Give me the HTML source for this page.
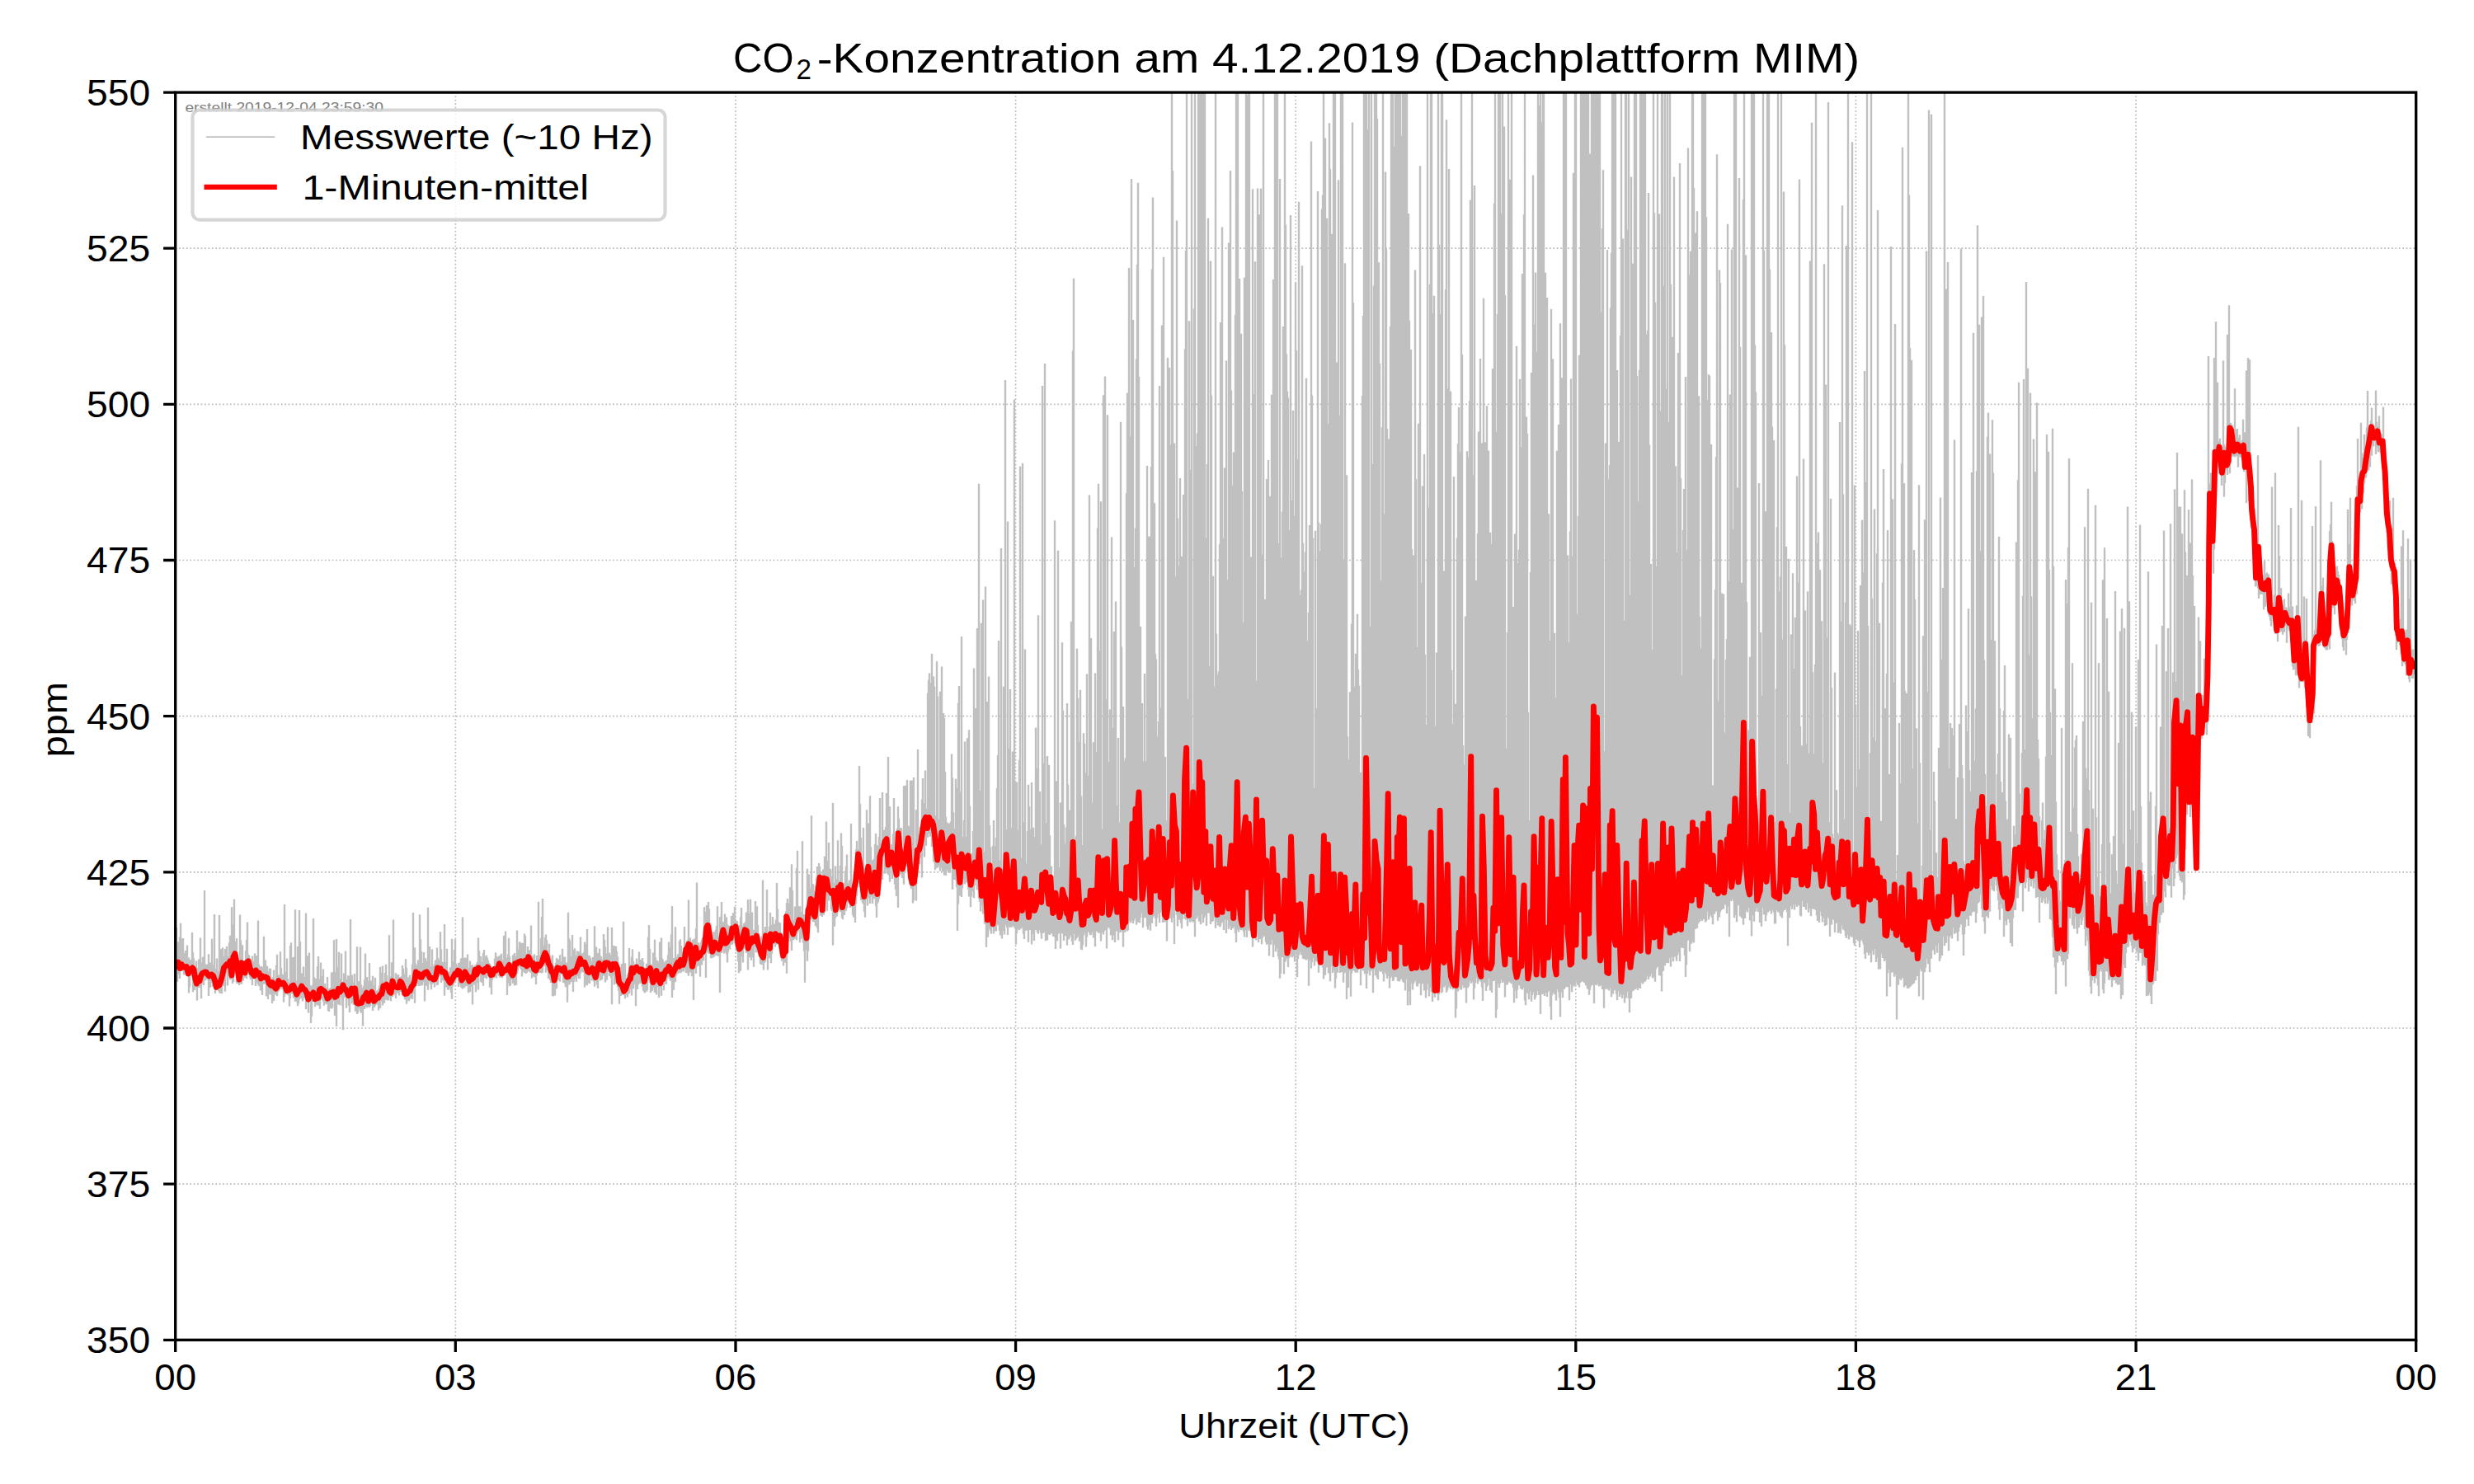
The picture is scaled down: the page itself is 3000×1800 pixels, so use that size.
<!DOCTYPE html><html><head><meta charset="utf-8"><title>CO2</title><style>html,body{margin:0;padding:0;background:#fff}svg{display:block}</style></head><body>
<svg width="3000" height="1800" viewBox="0 0 3000 1800">
<rect width="3000" height="1800" fill="#fff"/>
<defs><clipPath id="ax"><rect x="212.7" y="112.1" width="2717" height="1513.2"/></clipPath></defs>
<path d="M552.3 1625.3V112.1M892 1625.3V112.1M1231.6 1625.3V112.1M1571.2 1625.3V112.1M1910.8 1625.3V112.1M2250.4 1625.3V112.1M2590.1 1625.3V112.1M212.7 1436.1H2929.7M212.7 1247H2929.7M212.7 1057.8H2929.7M212.7 868.7H2929.7M212.7 679.5H2929.7M212.7 490.4H2929.7M212.7 301.2H2929.7" stroke="#b8b8b8" stroke-width="1.67" stroke-dasharray="1.67 2.75" fill="none"/>
<g clip-path="url(#ax)">
<path d="M214 1125.1V1180M215 1163.9V1190.7M216 1142.2V1176.5M217 1165.8V1182M218 1136.8V1186.9M219 1119.8V1176.1M220 1138.8V1177.8M221 1164V1178.1M222 1138.1V1177.1M223 1158.3V1182.6M224 1156.1V1180.3M225 1152.9V1181.3M226 1163.3V1183.6M227 1146.6V1180.8M228 1163.3V1182.3M229 1161.6V1204.6M230 1165.1V1197.5M231 1164.3V1184M232 1166.6V1184M233 1131V1184.5M234 1155.3V1203.2M235 1162.5V1199.8M236 1172.2V1201.1M237 1177.3V1197.5M238 1165.4V1197.4M239 1176.6V1213.4M240 1174.2V1198.1M241 1163.6V1198M242 1168.6V1194.9M243 1137.6V1197.4M244 1174.4V1211.3M245 1167.5V1192.9M246 1160.7V1188.6M247 1172.5V1195.2M248 1079.9V1187.5M249 1169.3V1189.3M250 1171.8V1186.7M251 1169.8V1187.8M252 1176.7V1188.3M253 1157.3V1208.1M254 1171.3V1195M255 1167.4V1197.8M256 1173.4V1189.6M257 1138.8V1192.1M258 1170.4V1196.7M259 1177.2V1195M260 1109.1V1195.5M261 1175.3V1205M262 1179V1197.6M263 1162.6V1199.4M264 1177.7V1199M265 1187.2V1201.9M266 1110.1V1203.8M267 1151.3V1205.1M268 1174.9V1199.7M269 1151.2V1205.2M270 1149.2V1192.2M271 1166.1V1196M272 1159.9V1188.7M273 1150.9V1202.8M274 1155.6V1180.8M275 1147.7V1180.5M276 1162.7V1195.4M277 1160.1V1182.6M278 1143.3V1179.8M279 1134.7V1188.3M280 1159V1186.7M281 1100.2V1186.2M282 1159.3V1193M283 1121.2V1191.1M284 1090.8V1181.9M285 1142.1V1174.2M286 1150.2V1180.4M287 1138.3V1192.4M288 1161.6V1193M289 1170.1V1192.5M290 1165.7V1194.9M291 1109.6V1193.4M292 1140.6V1193.2M293 1146.3V1193.7M294 1146.3V1182.4M295 1164.9V1189.6M296 1168.4V1186M297 1165.5V1185.5M298 1153.2V1184.5M299 1140.1V1187.3M300 1118.6V1181M301 1157.7V1180.5M302 1158.5V1182.7M303 1162.3V1185.8M304 1165.4V1188.1M305 1164.2V1184.2M306 1159.4V1195M307 1172V1185.6M308 1165.9V1183.6M309 1156.3V1185.7M310 1167.7V1195.9M311 1158.9V1189.9M312 1165.8V1191.5M313 1116.5V1193.9M314 1169.8V1196.2M315 1173V1191M316 1177.3V1201.4M317 1172.1V1195M318 1176.5V1207.1M319 1173.1V1191.3M320 1135.8V1193.8M321 1179.8V1191.9M322 1164.6V1193.7M323 1173.3V1208.4M324 1171.7V1199.6M325 1178.3V1212M326 1182.1V1199.6M327 1174.5V1205.4M328 1174.9V1206.5M329 1187V1201.8M330 1188.2V1217M331 1185.2V1204M332 1176.6V1213.9M333 1188V1203.3M334 1187.7V1206.4M335 1170.8V1206.2M336 1157.8V1208.2M337 1182.5V1203.4M338 1182.6V1201.9M339 1187V1200.5M340 1154.3V1198.7M341 1173.9V1199.3M342 1181.4V1198.6M343 1182.5V1200.5M344 1185.8V1215.7M345 1096.9V1209M346 1178.9V1203.5M347 1186V1205.7M348 1162.5V1205.6M349 1187.3V1207.3M350 1191.3V1206.3M351 1193.2V1220.7M352 1147.1V1211.2M353 1143.3V1204.5M354 1189.6V1205.2M355 1161.2V1202.9M356 1190.5V1210.5M357 1160.4V1208.8M358 1103.3V1214.7M359 1191.9V1211.6M360 1189.6V1215.2M361 1148V1220.3M362 1192.8V1217.4M363 1104V1212.2M364 1142V1208.4M365 1188.9V1210.7M366 1180.6V1210.4M367 1186.8V1214.6M368 1172.5V1211.1M369 1190.1V1207.5M370 1185.1V1210.5M371 1107.4V1224.3M372 1194.6V1209.5M373 1159.3V1210.5M374 1199V1228.5M375 1155.5V1211.7M376 1194.9V1214.3M377 1196.5V1240.9M378 1198.1V1232.9M379 1194.7V1212.8M380 1114V1214.9M381 1185.1V1214.8M382 1200.5V1221.2M383 1187.1V1216.1M384 1202.2V1218.9M385 1172.3V1218.3M386 1159.9V1219.8M387 1191.2V1217.8M388 1187.6V1223.8M389 1167.6V1211M390 1192.8V1209.2M391 1183.9V1212.8M392 1175.4V1214.7M393 1195.8V1219.7M394 1193V1216.4M395 1197.6V1216.9M396 1201V1218.1M397 1184.9V1217.4M398 1203.6V1226.1M399 1199V1226.9M400 1199.9V1222.5M401 1197.9V1219.7M402 1179.5V1223.5M403 1185.7V1222.4M404 1178.9V1214.4M405 1140.2V1211.7M406 1179V1232.1M407 1188.6V1218.1M408 1139V1245M409 1185.5V1214.3M410 1172.7V1218.3M411 1154.8V1216.9M412 1187.2V1219.2M413 1187.6V1209.6M414 1156.5V1208.9M415 1193.2V1219.8M416 1194.5V1249.2M417 1180.6V1210M418 1183.1V1209.8M419 1153.5V1206.7M420 1192.2V1222.8M421 1187.9V1210.6M422 1183.3V1210.5M423 1183.8V1219.8M424 1196V1227.9M425 1114.9V1211.3M426 1196.3V1211.2M427 1182.5V1217.6M428 1191.6V1213.9M429 1192.1V1218.9M430 1181.1V1215.7M431 1200.5V1226.8M432 1199V1222.7M433 1148.3V1229.9M434 1207.9V1228.4M435 1189.9V1221.9M436 1208.7V1222.9M437 1148.5V1226.6M438 1194.4V1228.8M439 1198.5V1223.9M440 1203.9V1244.6M441 1196V1222.4M442 1188.6V1223.9M443 1156.5V1216.6M444 1194.3V1221.3M445 1185V1222.2M446 1200.4V1221.3M447 1189.7V1219.5M448 1168.1V1221.9M449 1189.2V1219.9M450 1189.6V1215.5M451 1195.5V1216.6M452 1183.7V1226M453 1200.2V1219.2M454 1195.3V1221.9M455 1185.8V1220.1M456 1207V1218.6M457 1201.6V1218.3M458 1202.2V1218.5M459 1199.6V1225.4M460 1195.6V1217.2M461 1172.8V1222.9M462 1180V1214.5M463 1188.7V1214.4M464 1171.5V1219.4M465 1192.6V1210.6M466 1189.7V1216.7M467 1180.1V1212.2M468 1169.7V1206.3M469 1183.1V1212.9M470 1193.4V1213.5M471 1194.6V1213.3M472 1134.3V1208.8M473 1184.5V1208.9M474 1188.2V1214.2M475 1167.2V1209.1M476 1178.9V1208.9M477 1115.6V1201.3M478 1186.8V1206.5M479 1188.1V1206.7M480 1180.2V1211.1M481 1188.1V1202.2M482 1182.6V1204.8M483 1181.9V1201.1M484 1187.8V1207.5M485 1185.1V1200.9M486 1187.1V1203.1M487 1183.9V1202.6M488 1170.9V1207.3M489 1174.8V1206M490 1181.7V1207.5M491 1190.5V1212.5M492 1163.2V1209.9M493 1173.7V1217.8M494 1190.1V1213.3M495 1185.5V1210.7M496 1185.4V1214.2M497 1182.8V1210.4M498 1190.3V1211.6M499 1190.2V1205.3M500 1169.7V1211.7M501 1107V1205.1M502 1178.8V1202.3M503 1149.3V1216.8M504 1168.8V1195M505 1171.2V1196.2M506 1172.1V1193.4M507 1164.6V1192.6M508 1167.6V1195.9M509 1109.2V1190.1M510 1139.2V1195.7M511 1154V1190.4M512 1168.1V1195.1M513 1173V1191M514 1155.1V1191.2M515 1168.3V1214.6M516 1162.2V1190.9M517 1170.4V1195.7M518 1165.7V1187.8M519 1100.7V1200.8M520 1170.9V1191.1M521 1148V1189.7M522 1172.3V1193.7M523 1175.9V1200.3M524 1151.4V1193.8M525 1171.8V1192.4M526 1174.3V1191.8M527 1169.3V1197.5M528 1164.6V1191.8M529 1167.2V1189.2M530 1149.5V1195M531 1161.9V1194.5M532 1164.6V1182.2M533 1166.4V1182.8M534 1130.2V1184M535 1151.2V1192.1M536 1170.9V1183.2M537 1166.7V1189.1M538 1166.7V1189.9M539 1121.1V1207.7M540 1172.8V1189.9M541 1166.9V1197.6M542 1150.7V1195.1M543 1178.3V1200.5M544 1179V1200.8M545 1182.6V1198.7M546 1173.2V1197M547 1177.8V1204M548 1138.7V1211.7M549 1166.2V1196.3M550 1168.5V1194.7M551 1152.1V1191M552 1139.2V1191.4M553 1169V1188.4M554 1171.6V1186M555 1173.1V1185M556 1167.7V1197M557 1168.9V1193.9M558 1167.5V1193.7M559 1162.3V1197.4M560 1173.6V1198.2M561 1112.4V1199.5M562 1172.6V1194.5M563 1162V1198.2M564 1161.5V1188.6M565 1166V1196.3M566 1162.6V1194M567 1157.6V1196.1M568 1173.7V1204.2M569 1178.7V1199.8M570 1165.5V1203.3M571 1170.5V1197M572 1178.6V1194.1M573 1170.2V1218.5M574 1175.3V1193.9M575 1173.1V1191.6M576 1171.2V1194.8M577 1170.5V1203.2M578 1168.8V1189.4M579 1166.7V1192M580 1137.6V1200.5M581 1153.3V1182.6M582 1168.7V1182M583 1159.9V1190.8M584 1166.8V1191.7M585 1170.6V1191.7M586 1155.7V1195.7M587 1152V1184.5M588 1168.4V1186.1M589 1160.2V1183.1M590 1158.8V1187.3M591 1161.7V1184.1M592 1165.1V1181.6M593 1167.9V1185.5M594 1168.9V1197.7M595 1171.3V1191.8M596 1173.4V1206.2M597 1173.6V1188.8M598 1173.4V1186.1M599 1172.2V1186.3M600 1162.5V1185.3M601 1155.3V1184M602 1159.8V1186.5M603 1166.4V1180.9M604 1161V1182.1M605 1159.6V1183.9M606 1161.9V1185.7M607 1158.4V1178.9M608 1156.8V1182M609 1167.5V1186.2M610 1164.5V1183.2M611 1134.9V1181.7M612 1165.9V1183.3M613 1129.5V1181.8M614 1162V1179.8M615 1162.4V1207M616 1157.6V1185.5M617 1137.7V1192.5M618 1160V1196.2M619 1171.6V1195.2M620 1174.5V1187.7M621 1170.2V1188.2M622 1158.5V1192.9M623 1158V1189M624 1156V1195.6M625 1160.1V1181.2M626 1161.3V1194.7M627 1128.4V1181.1M628 1151.5V1177.8M629 1157V1172.5M630 1142.3V1172.8M631 1147.3V1174.6M632 1143.6V1175.8M633 1154.9V1184.6M634 1144V1178.5M635 1159.2V1178.2M636 1132.6V1180M637 1135.3V1176.6M638 1163.9V1181.1M639 1156.6V1179.8M640 1148V1176.4M641 1153.5V1178.3M642 1152.6V1173.1M643 1154.7V1179.7M644 1122.5V1178.9M645 1159.1V1186.4M646 1159.4V1184.2M647 1162.7V1181.2M648 1157.2V1185.3M649 1165V1181.6M650 1169.1V1194M651 1159V1183.5M652 1163.4V1180.3M653 1093.7V1179.8M654 1160.1V1180.1M655 1158.4V1178.5M656 1138V1180.1M657 1112V1180.6M658 1090.1V1179.5M659 1151.1V1170.3M660 1146.5V1167M661 1137.2V1171.9M662 1133.5V1179.8M663 1140.3V1177.3M664 1153V1175.5M665 1152.4V1186.9M666 1144.7V1180.8M667 1159V1189M668 1162.7V1192M669 1162V1190.6M670 1158.6V1208M671 1170.9V1208.4M672 1177.8V1194.4M673 1172.1V1207.4M674 1167.7V1195.8M675 1162.1V1199.2M676 1165.4V1188.6M677 1163.5V1188.9M678 1165.1V1179.2M679 1158.2V1190.8M680 1167.8V1182.3M681 1166.1V1181M682 1150.8V1181M683 1169.2V1192.1M684 1160.5V1187.6M685 1160.6V1193.3M686 1171.3V1197.2M687 1167.6V1190M688 1179.2V1215.7M689 1106.8V1190.1M690 1138.1V1194.6M691 1140.4V1193.5M692 1172.5V1190.3M693 1160V1191.1M694 1134V1189.2M695 1160.9V1203M696 1151.9V1190.7M697 1150.3V1186.8M698 1162.2V1187.2M699 1158.4V1190.8M700 1153.5V1184.1M701 1166.4V1182.1M702 1154V1186.9M703 1159.6V1187.2M704 1136.6V1180.7M705 1159.2V1177.6M706 1156.4V1178.4M707 1158.1V1179.6M708 1155V1179.4M709 1142.4V1197.5M710 1144.7V1182.7M711 1163.5V1194.5M712 1126.9V1195.3M713 1158.6V1188.9M714 1168.9V1192.2M715 1159.2V1192.9M716 1162.1V1184.6M717 1169.7V1183.1M718 1165.6V1189.6M719 1161.1V1187.3M720 1172.3V1190.2M721 1123.3V1196.7M722 1172.3V1190.3M723 1148.4V1189.5M724 1159.7V1194.4M725 1155.9V1198.8M726 1162.6V1183.2M727 1150.4V1186.3M728 1159.3V1189.5M729 1160.4V1182.2M730 1165.8V1188.3M731 1163.7V1181.7M732 1132.9V1183.2M733 1139.8V1183.8M734 1148.4V1191.4M735 1156.4V1176.2M736 1157.8V1188.7M737 1124.4V1177.2M738 1160.6V1179.3M739 1155.6V1183.9M740 1162.9V1182.4M741 1158.6V1186.2M742 1124.9V1218.3M743 1166.6V1183.6M744 1146.9V1183.3M745 1147.6V1194.4M746 1162.4V1184M747 1147.8V1193M748 1153.9V1194M749 1160.2V1197M750 1170.2V1201.7M751 1175V1217.8M752 1173.1V1199.9M753 1184.6V1208M754 1168.9V1204.2M755 1187.5V1206.7M756 1117.8V1206.9M757 1188.5V1206.4M758 1168.3V1211.3M759 1190.3V1206.8M760 1187.4V1204.3M761 1182.6V1209.6M762 1180.1V1205.4M763 1150.1V1205.1M764 1169.3V1200.3M765 1177.2V1192.8M766 1160.5V1207.4M767 1151.3V1188.6M768 1165.8V1199.2M769 1170.3V1193.8M770 1169.2V1186.8M771 1170.1V1220.3M772 1162.5V1186.2M773 1168.7V1200M774 1169.5V1194.4M775 1154.6V1188.8M776 1167.2V1193M777 1164.1V1183.8M778 1170.1V1191.5M779 1162V1196.4M780 1166.8V1201.5M781 1174.2V1202.7M782 1176.4V1204.5M783 1173.4V1197.1M784 1168.8V1202.8M785 1171V1201.3M786 1136.4V1189.1M787 1122.1V1184M788 1151.1V1192M789 1169.5V1204M790 1170V1201.8M791 1176.5V1201.9M792 1155.4V1198M793 1168V1198.2M794 1139.7V1204M795 1161.2V1202.4M796 1165.7V1206.5M797 1164.9V1196.1M798 1166.4V1196.7M799 1177.1V1210.3M800 1142.4V1197.7M801 1181.9V1196.4M802 1137.6V1207.7M803 1162.6V1194.2M804 1164.3V1194.2M805 1168.6V1201.3M806 1167.3V1192.9M807 1166.6V1191.6M808 1164.8V1194M809 1167.3V1186.7M810 1158.6V1185.4M811 1142.4V1184.4M812 1149.2V1187.2M813 1160.2V1189.7M814 1133.2V1187.1M815 1099V1209.9M816 1164.6V1187.3M817 1162.1V1200.8M818 1165.9V1187.7M819 1124.3V1191.3M820 1160.6V1183.4M821 1161.3V1179M822 1157.2V1181.3M823 1158.6V1179.8M824 1141.5V1176.8M825 1139.3V1180.3M826 1146.9V1179.7M827 1154.6V1178M828 1161.1V1174.7M829 1156.5V1178.5M830 1124V1174.9M831 1148.2V1173.3M832 1146.7V1180M833 1141.6V1168.7M834 1140.3V1180.8M835 1091.5V1183.7M836 1137.8V1166.4M837 1137.5V1179.6M838 1145.9V1176.5M839 1144.9V1184.2M840 1139.7V1174.8M841 1147.4V1212.9M842 1138.4V1175.5M843 1143V1176M844 1126.3V1180.8M845 1070.6V1172.4M846 1147.3V1166.6M847 1143.6V1171.6M848 1146.7V1170.2M849 1148.9V1184.7M850 1142.7V1163.8M851 1139.6V1170.5M852 1137.2V1162.5M853 1138V1165.2M854 1100.3V1157.6M855 1124.4V1158.8M856 1106.1V1185.9M857 1098V1150.4M858 1111.6V1155.4M859 1094.1V1144M860 1102.4V1157.1M861 1119.6V1154.5M862 1121.5V1162.2M863 1136.5V1162.3M864 1144.9V1161.4M865 1130.2V1161.3M866 1135.3V1160.2M867 1130.4V1159.4M868 1127.6V1153.8M869 1122.9V1158.8M870 1099.2V1156.3M871 1135.4V1160.1M872 1139V1157.7M873 1112.4V1204.1M874 1111.7V1155.9M875 1094V1156M876 1123.2V1146.2M877 1118.2V1144.5M878 1122.3V1156.4M879 1108.4V1154.4M880 1123.3V1149.2M881 1112.5V1157.5M882 1121.6V1167.4M883 1127.9V1154.4M884 1122.8V1149M885 1124V1151.4M886 1123.7V1146.1M887 1111V1145.8M888 1118.1V1145.7M889 1107.3V1141.7M890 1110.1V1142.2M891 1099.8V1144.2M892 1117.2V1145.3M893 1116.9V1153.6M894 1117.2V1154.2M895 1129.7V1165.9M896 1137.9V1180.2M897 1122.3V1173.8M898 1112.6V1177.8M899 1101.1V1156.1M900 1128.6V1160.3M901 1123.3V1167.4M902 1119.8V1150.7M903 1124.7V1142.3M904 1118.3V1150.6M905 1106.4V1156M906 1123.7V1153.7M907 1091.3V1176.4M908 1107.9V1155.1M909 1125.2V1161.2M910 1090.8V1155M911 1116.7V1164.7M912 1106.5V1161.2M913 1128.4V1149M914 1127.7V1172.8M915 1131.1V1144.6M916 1093.1V1148.8M917 1130.1V1155.3M918 1099.3V1151.3M919 1121.9V1155M920 1132.1V1157.8M921 1136.1V1160M922 1138.2V1168.9M923 1146V1169.9M924 1135.6V1170.3M925 1067.5V1165.7M926 1140.3V1176.5M927 1129.8V1167.8M928 1123.9V1166.6M929 1131.9V1154.8M930 1079V1159.6M931 1133.7V1176.6M932 1130.5V1153.6M933 1123.8V1162.2M934 1107V1156M935 1121.9V1168.2M936 1122.4V1157M937 1111.9V1143.4M938 1126.9V1144.1M939 1120.4V1144.7M940 1121.3V1148.4M941 1115.4V1145.8M942 1070.9V1145.2M943 1102.6V1144.1M944 1118.3V1145.4M945 1122.6V1150.5M946 1119.3V1157.4M947 1131V1161.5M948 1132.2V1165.6M949 1144.5V1165.4M950 1147V1171.6M951 1150V1167.4M952 1130V1166.6M953 1105.4V1167.8M954 1095V1180.8M955 1089.9V1148.4M956 1095.6V1141.5M957 1112.1V1138M958 1076.3V1133.6M959 1102V1141.8M960 1048.2V1153.1M961 1080.3V1138.8M962 1125.3V1140.3M963 1115.4V1139.3M964 1099.5V1137.9M965 1108.4V1137.1M966 1053V1140.3M967 1031.8V1131.5M968 1098.9V1129.1M969 1109.3V1126M970 1099.2V1143.3M971 1106V1139M972 1108.8V1138.1M973 1020.3V1132.8M974 1115.6V1143.7M975 1109.1V1153.8M976 1114.8V1191.7M977 1110.2V1151.7M978 1102.5V1149.1M979 1053.8V1165.7M980 1076.9V1153.4M981 1060.5V1132.6M982 1077.5V1115.2M983 1085.8V1105.6M984 989.2V1115.2M985 1085.7V1112.3M986 1072.3V1118M987 1080.6V1118.6M988 1086.2V1117.8M989 1074.1V1123.2M990 1064.6V1119.4M991 1051.1V1125.8M992 1060.3V1131.2M993 1046.9V1095.3M994 1050.7V1097.5M995 1058.3V1110.8M996 1067.5V1106.5M997 1075.2V1112.1M998 1054.9V1106.9M999 1053.9V1109.8M1000 1038.7V1105.9M1001 1048.6V1084.8M1002 996.5V1078.1M1003 1044.2V1104.7M1004 1062.2V1089.1M1005 1022.1V1092.5M1006 1064.9V1087.1M1007 1053.8V1086.8M1008 1062.6V1103.1M1009 1071.1V1105.1M1010 974.1V1146.5M1011 1070.9V1106.1M1012 1077.9V1123.7M1013 1050.6V1113.6M1014 1066.1V1106.1M1015 1073.9V1111.4M1016 1019.2V1103.2M1017 1068.2V1100.3M1018 1067.9V1090.2M1019 1050.1V1105.9M1020 1010.5V1106M1021 1026.1V1113.4M1022 1079.5V1115.2M1023 1077V1108.4M1024 1071V1109.9M1025 1056.2V1101.5M1026 1050.4V1104.8M1027 1036.5V1101.4M1028 1072.7V1091.5M1029 1071.3V1095M1030 1067.5V1095.9M1031 1074.7V1100.9M1032 999.1V1099.9M1033 1083.3V1098.6M1034 1071.7V1109.8M1035 1067.8V1112.7M1036 1060.1V1100.4M1037 1061V1119M1038 1030.2V1096.4M1039 1019.9V1087.1M1040 1030.2V1076.3M1041 1030V1061.7M1042 928.9V1065M1043 974.7V1071.2M1044 1015.9V1091.9M1045 1047.4V1087.9M1046 1053.7V1095.3M1047 1004V1096.7M1048 1053.5V1105.7M1049 1066.7V1112.7M1050 1058.4V1091.3M1051 982.3V1083.8M1052 1043V1098.6M1053 998.6V1072.5M1054 1046.7V1089.1M1055 965.2V1096M1056 1027.2V1087.7M1057 1065.3V1086.9M1058 1043.3V1095.9M1059 1056.9V1090.3M1060 1041.5V1080.2M1061 1024V1090M1062 1011V1099.1M1063 1059.4V1113M1064 1025.3V1096M1065 1041.4V1093.9M1066 1015.1V1089.9M1067 968.1V1080.3M1068 1025.9V1063.9M1069 1022.8V1045.5M1070 961V1066.9M1071 1017.3V1040.1M1072 1006.8V1037.4M1073 1007.9V1059.8M1074 1002.9V1039.9M1075 962.1V1054.9M1076 998.8V1059.3M1077 918.1V1060.8M1078 1015.7V1061.8M1079 978.2V1069.7M1080 1024V1053.2M1081 1027.5V1050.7M1082 1024.5V1065.9M1083 1011.5V1057.5M1084 968.1V1061.8M1085 1023.7V1072.4M1086 1033.5V1079M1087 1029.4V1087.1M1088 1005V1082.7M1089 978.2V1100.9M1090 992.5V1046.6M1091 1004.1V1058.1M1092 1011.4V1059.9M1093 1004.3V1060.5M1094 1029.6V1065M1095 1038.8V1057.1M1096 953.2V1072.8M1097 1021V1058.5M1098 952.8V1050.9M1099 979.4V1047.2M1100 945.9V1051.2M1101 1010.8V1057.4M1102 1001.8V1067.4M1103 1002.6V1072.4M1104 946.7V1074.8M1105 1028.5V1077.9M1106 946.5V1075.8M1107 988.7V1095.4M1108 943.1V1092.3M1109 1039.1V1074.8M1110 1030.9V1074.9M1111 982.3V1092.6M1112 1018.1V1064.6M1113 909.1V1053.6M1114 1018.3V1041.1M1115 1011.6V1048.3M1116 1002.9V1033.1M1117 1000.5V1040.7M1118 969.6V1064.6M1119 943.9V1030.7M1120 977.7V1027.3M1121 974.3V1039.5M1122 934.4V1013.5M1123 981V1025.7M1124 983.8V1014M1125 840.8V1015.7M1126 824.6V1009.4M1127 816.5V1011M1128 982.4V1014.7M1129 828.6V1009.7M1130 793V1027M1131 976.5V1027M1132 820.5V1044.7M1133 832.7V1046.5M1134 989V1055.3M1135 1008.9V1053M1136 802.3V1050.7M1137 844.8V1052.5M1138 1001.3V1050.1M1139 993.7V1047.9M1140 838.7V1056.5M1141 989.7V1052.5M1142 808.4V1042.1M1143 1004.7V1057.2M1144 865V1056.8M1145 871.1V1061.4M1146 935.8V1049.4M1147 990.8V1062.1M1148 997.2V1050.6M1149 1007.9V1055.2M1150 998.4V1057.9M1151 1006.5V1052.8M1152 998.4V1058.8M1153 996.4V1039.1M1154 914.6V1046.8M1155 943.3V1078.8M1156 985.2V1061.7M1157 1019.6V1067M1158 1004.9V1062M1159 944.8V1067.5M1160 978.9V1076M1161 955.7V1129M1162 852.9V1096.5M1163 831.9V1079.2M1164 1019.4V1086.4M1165 960.6V1078.7M1166 772V1087.9M1167 1015.2V1077.3M1168 1023.6V1061.5M1169 994.8V1066.2M1170 899.4V1072.5M1171 1015.1V1059.7M1172 1026V1070.4M1173 895.3V1067.4M1174 940.8V1078.8M1175 885.2V1087.5M1176 977.5V1084.4M1177 1037.3V1100.3M1178 1035V1087.5M1179 1052.6V1078.5M1180 1008V1081.2M1181 810.4V1089.2M1182 958.9V1074.3M1183 859V1068.7M1184 983.5V1068.5M1185 761.9V1079.5M1186 1024.7V1070.6M1187 586.8V1089.9M1188 1013.7V1094.1M1189 959V1105.5M1190 755.8V1094.7M1191 1038.2V1098.4M1192 727.5V1108.6M1193 1059.4V1101.1M1194 1033.4V1120.5M1195 711.4V1121.1M1196 1041.6V1148.7M1197 850.9V1122M1198 1067V1136.7M1199 820.5V1126.6M1200 1000.9V1124.1M1201 1027.5V1129.2M1202 1057.2V1132.8M1203 1054.3V1124.2M1204 1025.8V1125.5M1205 995.1V1132.4M1206 1029.2V1125M1207 1026.4V1129.3M1208 1015.9V1129.6M1209 956V1120M1210 916V1121.5M1211 776.9V1122.4M1212 1043.6V1128.7M1213 1047.4V1134.4M1214 664.9V1129.3M1215 1059.6V1138.4M1216 1060.8V1124.3M1217 832.7V1129.1M1218 1049.6V1133.6M1219 460.9V1122M1220 1013.5V1120.2M1221 1006V1124.6M1222 632.5V1134M1223 1047.8V1124.1M1224 908V1118.8M1225 836.1V1125.1M1226 1021.9V1118.2M1227 1004.3V1124.5M1228 911.5V1122.9M1229 915V1118.8M1230 484.4V1124.4M1231 948.5V1126.5M1232 1062.5V1145.4M1233 948.7V1132.3M1234 1006.7V1123M1235 1054.5V1127.3M1236 921.8V1128.2M1237 565.8V1123.4M1238 1040.8V1126.4M1239 1070.1V1122.3M1240 561.7V1125M1241 1055.4V1132.7M1242 996.9V1139M1243 787.4V1129.1M1244 1047.6V1123.8M1245 1049.9V1128.4M1246 1007.8V1125.1M1247 951.8V1142.7M1248 978.2V1127.6M1249 1006.1V1128M1250 1014.6V1126M1251 949.1V1145.6M1252 1073V1132.9M1253 1003.8V1127.3M1254 1014.9V1141.1M1255 1070V1127.7M1256 882.4V1126.6M1257 931.4V1127.7M1258 1074.3V1131M1259 746.2V1132.7M1260 1070.3V1126.6M1261 960V1127.9M1262 1061.6V1131.5M1263 1024.4V1138.8M1264 468V1127.5M1265 927.5V1131.9M1266 926V1127.9M1267 441.1V1130.6M1268 998.2V1141.3M1269 1013.7V1127.2M1270 917.1V1140.4M1271 1025.8V1132.9M1272 927.8V1128.8M1273 1013.2V1133.9M1274 1057V1131.4M1275 1050.8V1132.3M1276 1067.5V1131.1M1277 1067V1135.7M1278 1063.2V1129.2M1279 631.3V1136.8M1280 1008.6V1150.9M1281 947.4V1130.6M1282 1024.2V1141.3M1283 667.7V1132.8M1284 1052.2V1128.2M1285 1092V1131.7M1286 973.5V1150.4M1287 1062.2V1132.1M1288 779.2V1131.8M1289 861.8V1132.6M1290 999.9V1141.1M1291 1030.3V1135M1292 1023.4V1135.2M1293 1003.4V1135.2M1294 852.9V1146.8M1295 951.4V1132.8M1296 1005.7V1139.6M1297 982.7V1136.9M1298 1015.1V1134.4M1299 753.8V1130.2M1300 989.8V1141.9M1301 425.5V1145.9M1302 337.8V1132.2M1303 1027.9V1133M1304 1017V1140.8M1305 1013.7V1138.6M1306 786.8V1137.2M1307 846.8V1134.4M1308 1037.2V1135.5M1309 899.6V1141.7M1310 836.7V1137.9M1311 965.4V1151.5M1312 1061.7V1152.2M1313 1025V1146.5M1314 889.3V1134.7M1315 901.7V1130.2M1316 1058.9V1132M1317 937.2V1148.5M1318 817.4V1136.7M1319 1059.4V1130.2M1320 941.1V1129.7M1321 600.6V1131.3M1322 1000V1134.3M1323 774V1133.9M1324 973.7V1130.8M1325 1031.4V1130.7M1326 900.3V1137.6M1327 1062.9V1134.8M1328 816.5V1148.3M1329 912V1129.5M1330 1048.6V1128.5M1331 640.5V1130.1M1332 586.8V1131.7M1333 1002.5V1131.5M1334 788.9V1127.3M1335 608.2V1141.6M1336 1077.8V1128.6M1337 1005.7V1130.7M1338 479.3V1133.6M1339 947.8V1129.4M1340 456.6V1127.9M1341 960.5V1125.9M1342 848.4V1150.4M1343 503.3V1125.5M1344 1039.8V1125.1M1345 924.2V1125.1M1346 860.4V1126.4M1347 1009.1V1134.4M1348 651.5V1134.6M1349 920.7V1140.3M1350 883V1134.5M1351 766.1V1123.4M1352 1020.6V1142.9M1353 729.6V1123.3M1354 1028.8V1129.4M1355 977V1123.8M1356 895V1140.2M1357 1000.6V1125.2M1358 997.7V1131.3M1359 511.8V1128.8M1360 784.6V1130.3M1361 1056.5V1129M1362 856.9V1148.5M1363 995V1128.3M1364 922.8V1131M1365 919.4V1128.8M1366 598.1V1127.3M1367 476.5V1129.4M1368 971.2V1128.3M1369 325V1117.3M1370 761.4V1116.5M1371 529.2V1119.3M1372 217V1116.6M1373 979.6V1116M1374 388.1V1120.1M1375 688.1V1116.5M1376 944.3V1113.7M1377 640.4V1113.3M1378 435.4V1121.7M1379 320.7V1112.2M1380 221.7V1118.8M1381 456.9V1108.6M1382 849V1119.3M1383 759.9V1113M1384 982.1V1107.4M1385 852.9V1107.5M1386 1004.1V1125.2M1387 923.3V1113.5M1388 817.1V1109.6M1389 923.8V1113.2M1390 989.3V1109.1M1391 564.9V1123.6M1392 703.3V1127.5M1393 650.7V1107.4M1394 681.8V1122M1395 650.4V1128.7M1396 566.1V1113.6M1397 326.4V1119.9M1398 239.5V1112.4M1399 944.1V1107.6M1400 610.3V1111M1401 793.2V1113.9M1402 799.5V1123.7M1403 1018.7V1113.3M1404 893.4V1108.4M1405 875V1102.3M1406 468V1119.3M1407 1021.2V1107.1M1408 858.5V1104.8M1409 394.4V1102.5M1410 992.4V1119M1411 311.7V1118.4M1412 1030.4V1112M1413 917.9V1118.2M1414 994.9V1111.9M1415 1011.4V1141.4M1416 434V1114.2M1417 902.7V1114.1M1418 446.1V1108.5M1419 539.5V1113.8M1420 815.3V1103.7M1421 106.1V1118.7M1422 207V1113.3M1423 915.5V1110.3M1424 537.6V1144.9M1425 699.2V1104.6M1426 714.5V1105M1427 267.5V1109.7M1428 628.8V1123.5M1429 865.5V1115.8M1430 686.6V1115.4M1431 579.9V1106.7M1432 1050.7V1119.5M1433 675V1126.3M1434 860.2V1114.6M1435 599.9V1107.5M1436 882.1V1109.7M1437 423.2V1114.4M1438 303.8V1115.4M1439 106.1V1109.8M1440 847.8V1123.3M1441 947.2V1108.4M1442 389.3V1111.6M1443 1031.1V1118.4M1444 569.8V1109.6M1445 106.1V1117.6M1446 950.5V1108.3M1447 952.6V1118.7M1448 374.6V1107.2M1449 106.1V1136.3M1450 541V1107.4M1451 823.6V1114.3M1452 525.4V1109.3M1453 107.1V1111.3M1454 106.1V1117.8M1455 107.1V1105.9M1456 106.1V1121.2M1457 840.8V1108.7M1458 106.1V1108.9M1459 106.1V1119.2M1460 107.1V1113.2M1461 106.1V1105.7M1462 952.5V1110.5M1463 652.5V1122.9M1464 563.1V1106.6M1465 264.7V1107.5M1466 808V1107.6M1467 979V1108M1468 316.5V1121M1469 479.6V1116.2M1470 843V1118M1471 698.8V1116.8M1472 832.4V1111.6M1473 839.8V1113.1M1474 106.1V1125.9M1475 768.7V1116.1M1476 818.3V1117.9M1477 911.2V1122.4M1478 814.2V1120.9M1479 659.7V1124.3M1480 391V1123.4M1481 1042V1119.6M1482 275.5V1112.8M1483 963.6V1118.6M1484 652.7V1128M1485 567.4V1115.3M1486 609.9V1113.4M1487 437.6V1132.1M1488 926.1V1114.5M1489 703.3V1115.9M1490 294.6V1126.8M1491 693.4V1118.1M1492 207.1V1123M1493 473.4V1128M1494 589.2V1120.2M1495 914.5V1125.9M1496 548.6V1123.5M1497 679.4V1124.1M1498 381.9V1132M1499 106.1V1143M1500 505.9V1124.5M1501 106.1V1127.8M1502 629.9V1130.4M1503 338V1126.6M1504 763.2V1127.1M1505 404.8V1128.3M1506 595.7V1127.6M1507 755.3V1124.9M1508 970.7V1130.3M1509 336.8V1136.5M1510 459.2V1126.7M1511 106.1V1128.6M1512 115.8V1137.1M1513 595.2V1125.5M1514 106.1V1127.3M1515 106.1V1129.1M1516 987.8V1126.6M1517 675.6V1129.7M1518 848.9V1134.4M1519 229.3V1148.6M1520 478V1128.7M1521 614.7V1132M1522 317.2V1134.3M1523 825.5V1140.3M1524 911.2V1131.9M1525 228.4V1132.2M1526 711.9V1142.9M1527 260.3V1134.4M1528 625.9V1138.9M1529 228.7V1135.3M1530 672.6V1145.3M1531 945.2V1137.6M1532 109V1135.2M1533 894V1133.4M1534 726.9V1135.9M1535 841.2V1142.4M1536 580.9V1145.7M1537 654.3V1145M1538 557.9V1136.6M1539 669.9V1159.4M1540 602V1144.5M1541 617.9V1145.7M1542 478.7V1138.5M1543 875.5V1139.9M1544 338.9V1161.1M1545 469.7V1144.8M1546 106.1V1145.8M1547 106.1V1154.3M1548 374.9V1144.9M1549 106.1V1150.3M1550 658.9V1160M1551 955.2V1163.5M1552 217.1V1186.8M1553 676.5V1181.1M1554 761.8V1151M1555 620.8V1160.9M1556 396V1149.3M1557 431.5V1181.6M1558 106.1V1167.1M1559 272.5V1165.4M1560 429.5V1162.4M1561 474.8V1158.2M1562 482.5V1173.1M1563 699.6V1161.9M1564 642.9V1160.8M1565 261V1151.5M1566 607V1159.2M1567 651.2V1161.3M1568 498.1V1159.8M1569 766.9V1154.7M1570 625.7V1166.5M1571 343V1153.8M1572 424.9V1154.1M1573 888.1V1185.2M1574 556.7V1162.9M1575 244.8V1158.2M1576 721.9V1154.8M1577 945.4V1154.8M1578 715.4V1158.3M1579 322.3V1157.3M1580 658.6V1162.7M1581 693.6V1159.8M1582 746.9V1163.4M1583 669.5V1158.8M1584 458.7V1164.4M1585 777.4V1162.9M1586 833.1V1159.5M1587 743.1V1195.7M1588 636.9V1164.8M1589 750.6V1163.3M1590 171.4V1174.5M1591 479.6V1167.3M1592 652.7V1161.8M1593 955.8V1160.9M1594 1038.5V1171.5M1595 643.8V1160.6M1596 859.1V1165.3M1597 907.5V1166.7M1598 232.1V1165M1599 633.7V1179.8M1600 997.9V1163.4M1601 668.5V1169.6M1602 635.7V1165.3M1603 253.6V1166.2M1604 236.4V1173.4M1605 106.1V1187.5M1606 288V1180.7M1607 167.4V1182.8M1608 674.5V1173.6M1609 264.8V1169.8M1610 814.3V1173.3M1611 514V1180.6M1612 149.2V1173.2M1613 205.1V1190.3M1614 1039.3V1171.8M1615 283.7V1167.3M1616 305.8V1179.9M1617 106.1V1173.1M1618 609.3V1177.1M1619 106.1V1198.6M1620 654.8V1187M1621 439.5V1168.5M1622 758V1179.7M1623 218.3V1170.1M1624 733.5V1171.5M1625 503.8V1180.1M1626 106.1V1175.8M1627 462.9V1178.9M1628 106.1V1178.9M1629 678.5V1191.8M1630 1009V1180.4M1631 319.2V1170.8M1632 609.7V1179.4M1633 576.2V1212.1M1634 893.2V1172.6M1635 931.1V1198M1636 921.3V1173.9M1637 839.2V1177.7M1638 853.2V1208.8M1639 756.8V1180.7M1640 148.5V1175.6M1641 366.9V1177.3M1642 832.8V1176M1643 1058.1V1178.4M1644 792.8V1179.8M1645 850.1V1178.9M1646 744.7V1179.8M1647 812.3V1175.5M1648 831.5V1172.9M1649 937.1V1172.9M1650 942.2V1195.2M1651 937.1V1173.6M1652 479.8V1175.6M1653 382.9V1177.5M1654 106.1V1177.4M1655 106.1V1181.2M1656 106.1V1176.4M1657 106.1V1199.1M1658 157.2V1180.9M1659 279.6V1177.1M1660 106.1V1176M1661 760V1183.3M1662 880.2V1178.2M1663 106.1V1176.8M1664 662.3V1176.9M1665 563V1204.2M1666 346.5V1175.5M1667 106.1V1176.1M1668 106.1V1183.2M1669 106.1V1181.3M1670 143.8V1185.9M1671 621.9V1188M1672 318.3V1176.9M1673 441.1V1177.4M1674 704.6V1178.7M1675 752.4V1177.3M1676 518.4V1177.8M1677 106.1V1181.2M1678 623.2V1190.5M1679 775.7V1179.1M1680 208.5V1179.5M1681 302V1181.4M1682 520.3V1186.7M1683 566.2V1183.9M1684 532.6V1181.5M1685 593.1V1198.5M1686 396.3V1186.3M1687 106.1V1183.4M1688 134.6V1184.5M1689 106.1V1190.1M1690 177.5V1188.8M1691 397.3V1184.8M1692 106.1V1181.9M1693 475.7V1185.2M1694 106.1V1182M1695 383.2V1190.1M1696 106.1V1182.9M1697 106.1V1190.5M1698 106.1V1183.9M1699 403V1187.8M1700 165.1V1186.5M1701 106.1V1190.2M1702 106.1V1191.7M1703 106.1V1188.9M1704 106.1V1201.6M1705 106.1V1185.8M1706 106.1V1187.5M1707 777.5V1219.6M1708 259V1186.6M1709 388.7V1202.5M1710 641.2V1219M1711 424V1192.8M1712 666V1191.2M1713 954.5V1200.4M1714 673.4V1193.3M1715 716.9V1191.2M1716 327.6V1189.6M1717 580.9V1189.3M1718 854.9V1196.2M1719 784.9V1196.5M1720 513.8V1193M1721 661.8V1192.5M1722 201.3V1192.3M1723 706.9V1207.3M1724 757.9V1189.3M1725 589.5V1193.3M1726 769.1V1190.7M1727 551V1201.4M1728 794.1V1193M1729 879V1210.4M1730 906.6V1200.8M1731 106.1V1193.3M1732 615.6V1192.9M1733 628.6V1208.6M1734 345.1V1193.6M1735 106.1V1198.3M1736 106.1V1203.2M1737 380.3V1215.1M1738 1022V1204.3M1739 358.7V1202.9M1740 1007.3V1209.7M1741 880.8V1204M1742 791.4V1201.3M1743 908.1V1200.3M1744 112.9V1213.4M1745 296.8V1205.9M1746 381.1V1197M1747 885.6V1199.2M1748 106.1V1204.6M1749 106.1V1203.2M1750 1007.6V1196.1M1751 692.6V1197.4M1752 895V1195.5M1753 351.1V1195.6M1754 145.3V1203.7M1755 471.6V1201.4M1756 639.3V1197.9M1757 205V1196.4M1758 748.7V1193.4M1759 474.6V1199.6M1760 812.8V1196.1M1761 877.9V1196.7M1762 1109V1200.2M1763 578.2V1195.1M1764 941.5V1197.8M1765 853.7V1234.4M1766 922.3V1223.3M1767 652.5V1196M1768 538.2V1202.6M1769 493.9V1198M1770 548.3V1195.7M1771 594.6V1200.2M1772 106.1V1200.6M1773 430V1195.2M1774 904.3V1192.5M1775 927.4V1198.2M1776 1048.8V1192.2M1777 747.4V1197.5M1778 810.1V1216.6M1779 547.2V1194.8M1780 554.5V1198.3M1781 615.2V1196.1M1782 486.1V1190M1783 242.6V1189.2M1784 907.6V1192.8M1785 106.1V1191.3M1786 576.4V1187.3M1787 587.9V1212.5M1788 225.1V1198.8M1789 1011.8V1192.2M1790 704V1186.6M1791 789.9V1185.6M1792 646.9V1193.2M1793 523.6V1190.1M1794 752.6V1186.1M1795 435.1V1186.1M1796 628.3V1190.9M1797 537.3V1197.6M1798 780.4V1214M1799 361.8V1186.6M1800 685.1V1191.6M1801 536.3V1192.6M1802 717.4V1202M1803 492.2V1196.9M1804 692.3V1195M1805 546.4V1187M1806 828.1V1186.3M1807 645.7V1201.4M1808 660V1194.8M1809 709.9V1204M1810 447.3V1186.4M1811 873.4V1189.9M1812 246.8V1187.6M1813 106.1V1189.4M1814 523.4V1234.8M1815 965.7V1224.6M1816 381V1187.2M1817 106.1V1193M1818 134.6V1198M1819 106.1V1192.7M1820 516.3V1188.4M1821 259.3V1188.5M1822 106.1V1192.1M1823 848.3V1190.8M1824 153.6V1188.6M1825 358V1209.5M1826 907.8V1189.3M1827 911.4V1194.4M1828 766.9V1194.2M1829 106.1V1191.6M1830 895.1V1190.2M1831 217.7V1190.8M1832 643.6V1192.3M1833 106.1V1192.9M1834 986.7V1193.5M1835 736V1198.2M1836 771.5V1216.3M1837 647.4V1196.1M1838 708.2V1201.5M1839 419.8V1211M1840 790.5V1200.8M1841 683.1V1194.4M1842 666.8V1195.3M1843 459.8V1194.7M1844 542.4V1198.9M1845 641.4V1199.2M1846 331.9V1200.6M1847 914.9V1197.5M1848 260.3V1198.1M1849 106.1V1213.4M1850 673.5V1219.3M1851 505.5V1203.9M1852 526.1V1203.7M1853 863.8V1205.3M1854 1061.6V1212.3M1855 995.1V1202.4M1856 694.1V1199.9M1857 451.9V1214.7M1858 935.2V1207.1M1859 212.5V1202.8M1860 393.3V1203.4M1861 427.6V1212.6M1862 330.5V1209.7M1863 426.8V1207.3M1864 752.7V1200.9M1865 106.1V1202M1866 127.9V1206.9M1867 660.9V1203.2M1868 106.1V1229.9M1869 661.3V1201.5M1870 148.6V1206.1M1871 106.1V1202.2M1872 106.1V1205.4M1873 723.5V1208.1M1874 330.8V1203.6M1875 519V1204.3M1876 360.9V1209M1877 807.1V1203.3M1878 623.3V1201.8M1879 893.4V1201.8M1880 776.9V1220.9M1881 374.7V1237M1882 559.9V1207.3M1883 435.2V1204.1M1884 860V1200.4M1885 767.8V1205.8M1886 881.3V1206.2M1887 846V1213.6M1888 546.8V1200M1889 549V1199.6M1890 515.1V1203.6M1891 702.7V1210.3M1892 392.2V1233.4M1893 774.1V1203.7M1894 458.2V1200M1895 515.7V1210.2M1896 106.1V1198.2M1897 106.1V1199.7M1898 868.1V1197.7M1899 106.1V1195.4M1900 943.6V1196.7M1901 673.4V1197.2M1902 884.3V1196.6M1903 779.3V1213.3M1904 644.6V1194.1M1905 459.6V1192M1906 782.9V1203.3M1907 674.7V1197.2M1908 209.8V1195M1909 627.8V1193.5M1910 106.1V1196.5M1911 106.1V1190.3M1912 744.5V1188.5M1913 800.9V1194.8M1914 626V1193.7M1915 430.7V1197.5M1916 557.7V1192M1917 107.1V1190.9M1918 107.1V1186.5M1919 106.1V1190.5M1920 634.2V1189.7M1921 107.1V1192.1M1922 107.1V1189.9M1923 107.1V1195.1M1924 107.1V1195.8M1925 106.1V1199.4M1926 107.1V1193.5M1927 454.5V1206.8M1928 186.4V1200.8M1929 345.4V1196.6M1930 106.1V1193.4M1931 107.1V1194.8M1932 107.1V1190.5M1933 107.1V1216.9M1934 155.5V1194.5M1935 106.1V1191.8M1936 107.1V1195.1M1937 106.1V1193.3M1938 107.1V1191M1939 107.1V1196.4M1940 107.1V1196.2M1941 496.1V1191.9M1942 378.8V1194.7M1943 277.1V1199.9M1944 206.1V1200.2M1945 997V1222.7M1946 911.3V1199.9M1947 537.4V1199.2M1948 594.2V1198.8M1949 303V1199.8M1950 670.8V1196.4M1951 581.6V1201.6M1952 564.2V1198.1M1953 373.5V1198.4M1954 306.5V1209.3M1955 106.1V1202.5M1956 384.3V1205.4M1957 106.1V1200.5M1958 106.1V1201.2M1959 106.1V1200.6M1960 588.5V1205.8M1961 449.1V1213.3M1962 653.1V1200.4M1963 535.8V1202.1M1964 1029.3V1209M1965 407.1V1205.2M1966 107.4V1204.9M1967 507V1211M1968 289.5V1201.4M1969 761.5V1207M1970 752.7V1216.6M1971 106.1V1208.3M1972 106.1V1210.6M1973 278.7V1202.6M1974 646V1202.7M1975 106.1V1210.7M1976 721.9V1228.3M1977 743.1V1204.8M1978 214.5V1210.9M1979 762.5V1202.5M1980 319.4V1202M1981 545.9V1201.2M1982 106.1V1196.1M1983 106.1V1199.9M1984 106.1V1198.7M1985 455.9V1193.3M1986 608.5V1201M1987 650.3V1197.9M1988 448.8V1196.6M1989 106.1V1199M1990 106.1V1191.5M1991 197.2V1190.2M1992 106.1V1193.5M1993 106.1V1191.8M1994 106.1V1190.6M1995 106.1V1190.5M1996 405.6V1188.5M1997 656V1182.8M1998 400.7V1183.4M1999 234V1188M2000 539.6V1179.1M2001 737.3V1184.5M2002 684V1180.9M2003 788.3V1178M2004 874V1186.5M2005 106.1V1182.1M2006 258.3V1185M2007 366.7V1190.7M2008 686.8V1175.6M2009 846.7V1173.2M2010 106.1V1172.8M2011 876V1172.3M2012 259.6V1182.9M2013 837.3V1183.5M2014 498.6V1182.4M2015 106.1V1202.4M2016 106.1V1178.1M2017 878.5V1177.6M2018 346.3V1170.2M2019 106.1V1171.2M2020 471.8V1168.1M2021 680.6V1167.8M2022 106.1V1166.1M2023 853.1V1168.2M2024 511.9V1162.1M2025 106.1V1161.7M2026 344.9V1172.4M2027 434.7V1160.5M2028 408.8V1158.6M2029 491.1V1166.3M2030 214.4V1155.3M2031 935.6V1160.5M2032 565.5V1158.6M2033 670.2V1165.7M2034 951.3V1158.4M2035 428V1155.4M2036 493.3V1152.1M2037 197.9V1166M2038 580.2V1146.9M2039 910.4V1149.6M2040 819.2V1148.2M2041 643V1149.9M2042 593.1V1140.3M2043 597.2V1159.1M2044 457.1V1185M2045 667.2V1170.2M2046 702.8V1141.2M2047 179.4V1140M2048 753.1V1134.5M2049 333.6V1154.2M2050 304.8V1134.4M2051 575.3V1144.8M2052 106.1V1141.7M2053 106.1V1129.1M2054 228V1143.4M2055 580.7V1126.6M2056 282.4V1127M2057 482.9V1123.3M2058 256.2V1125.7M2059 609.3V1120.6M2060 480.2V1118.4M2061 748.3V1117.7M2062 939.6V1115.1M2063 786.2V1114M2064 106.1V1117.1M2065 544.8V1111.4M2066 106.1V1115.1M2067 370.8V1114.9M2068 106.1V1118.4M2069 263.3V1117.2M2070 793.5V1105.7M2071 485.1V1104.9M2072 454.2V1115.6M2073 455.7V1111.8M2074 868.6V1109.5M2075 538.9V1103M2076 977.5V1113M2077 952.5V1121.2M2078 998.6V1105.5M2079 799.6V1108.7M2080 715.1V1099.7M2081 554.2V1105.5M2082 187.2V1100.9M2083 1007V1116.7M2084 850.6V1098.6M2085 327.4V1112.4M2086 342.9V1106.2M2087 825.8V1104M2088 719.6V1100.3M2089 835.6V1102.7M2090 720.5V1102.6M2091 888.4V1095.4M2092 932.5V1097.4M2093 800V1094.9M2094 775.1V1108.1M2095 271.8V1092.3M2096 704.8V1099.5M2097 829.9V1136.2M2098 478.4V1092.5M2099 901.3V1093.1M2100 302.5V1090.2M2101 903.3V1089.8M2102 642.1V1092.7M2103 106.1V1113.3M2104 647V1091.4M2105 106.1V1109.7M2106 731.3V1118.3M2107 591.4V1097.8M2108 964.8V1095.3M2109 215.9V1098.3M2110 421.1V1111.5M2111 746.3V1101.8M2112 707.1V1113.4M2113 762V1100.7M2114 242.1V1121.8M2115 106.1V1100.7M2116 545.1V1114M2117 309.5V1104.4M2118 730.2V1099.6M2119 905.2V1106.4M2120 885.5V1097.8M2121 1015.4V1101M2122 796.7V1116.4M2123 915.2V1107M2124 106.1V1135.5M2125 674.1V1110.2M2126 106.1V1101.1M2127 106.1V1117.7M2128 418.6V1101M2129 475.6V1105.4M2130 995.8V1099M2131 1038.1V1101.3M2132 980.8V1105.9M2133 586V1101.5M2134 1048V1118.9M2135 766.9V1104.3M2136 908.1V1123.7M2137 843.8V1101.3M2138 106.1V1101.1M2139 303.8V1109.3M2140 901.6V1104.1M2141 620.3V1117.3M2142 960.5V1110.2M2143 106.1V1104.7M2144 791V1106.6M2145 106.1V1104.8M2146 326.8V1104.8M2147 973.2V1102M2148 402.9V1108.4M2149 517.6V1103.5M2150 720.4V1102M2151 534V1106.5M2152 1065.6V1120.5M2153 996.8V1120.3M2154 835.6V1103.9M2155 639.3V1103.9M2156 106.1V1106.2M2157 717.3V1102.8M2158 1011.3V1107.6M2159 699.5V1111.4M2160 106.1V1104.4M2161 821.8V1113.4M2162 775.6V1106.1M2163 232.5V1102.1M2164 418.3V1104M2165 972.1V1102.3M2166 663V1100.1M2167 926.9V1106.6M2168 931.8V1147.3M2169 677.7V1113.2M2170 985.8V1113.2M2171 1004.6V1098.3M2172 769.4V1099M2173 923.4V1102.7M2174 695.3V1096.3M2175 810.9V1097.5M2176 998.2V1103.4M2177 749.1V1095.3M2178 964.2V1097.3M2179 577.6V1100M2180 706.6V1097.5M2181 928.1V1097.7M2182 217.5V1098.4M2183 881.1V1110M2184 1025.5V1111.4M2185 904.2V1090.1M2186 928.3V1092.7M2187 556.6V1099.9M2188 831.9V1093.2M2189 740.6V1100.2M2190 939.8V1103.5M2191 902.2V1094.6M2192 717.6V1095.6M2193 913.4V1106.7M2194 941.5V1099.4M2195 316.5V1101.6M2196 845.2V1111.2M2197 148.7V1097.5M2198 815.2V1102.3M2199 914.5V1102.7M2200 974.8V1101.3M2201 806.1V1102.7M2202 106.1V1104.2M2203 976.2V1110.4M2204 658.5V1117M2205 645.6V1115.6M2206 976.7V1119M2207 691.2V1104.8M2208 997.4V1105.8M2209 753.3V1111.2M2210 1027.5V1118.4M2211 925.4V1107.7M2212 320.2V1113.2M2213 880.6V1123.1M2214 466.5V1112.9M2215 965.1V1122.1M2216 773.5V1109.4M2217 124.1V1111.9M2218 997.1V1114.5M2219 1015.9V1136M2220 604.7V1111.9M2221 834.3V1121.4M2222 1011.2V1113.2M2223 1016.1V1114.8M2224 1042.4V1116M2225 815.6V1131M2226 980.5V1119M2227 958.2V1119.8M2228 1010.1V1118.1M2229 1012.2V1131.7M2230 1019.9V1126.9M2231 511.9V1129.8M2232 931.2V1132.5M2233 753.7V1122.7M2234 249.2V1121.4M2235 599.6V1127.4M2236 993.5V1125.7M2237 1007.1V1129.1M2238 730.7V1135.6M2239 298.1V1138.1M2240 629.3V1125.9M2241 106.1V1133.5M2242 948.8V1139.6M2243 757.3V1135.4M2244 759.5V1127.7M2245 945V1136.4M2246 172.2V1135M2247 1070.2V1136.7M2248 1037.2V1144.2M2249 588.5V1147.1M2250 855.2V1135.8M2251 954.7V1139.5M2252 1043.9V1133.6M2253 764.9V1141.3M2254 972V1140.7M2255 932.9V1149.3M2256 710V1141.2M2257 1006.6V1139.5M2258 630.8V1138.4M2259 694.3V1142.6M2260 949.3V1145.9M2261 450.1V1157.3M2262 584.9V1162.9M2263 914.2V1148.4M2264 106.1V1155.5M2265 759V1146.3M2266 1002.3V1158.8M2267 1020.2V1150.7M2268 913.3V1155.9M2269 106.1V1167.2M2270 726.3V1153.3M2271 894.7V1152.8M2272 920.8V1158.2M2273 617.5V1150.9M2274 924.7V1151M2275 899.2V1167M2276 671.2V1153.7M2277 255.1V1161.4M2278 993.9V1175.8M2279 755.8V1173M2280 1049.6V1175.4M2281 995.8V1156.8M2282 1049.9V1156.3M2283 706.7V1162.1M2284 568.9V1159.2M2285 873.7V1165.9M2286 858.9V1164.2M2287 1056V1162.9M2288 817.1V1208.4M2289 642.9V1180.4M2290 963.7V1176.1M2291 939.1V1170.1M2292 1038.1V1196.8M2293 299V1171.2M2294 845.8V1179.5M2295 605.2V1174.6M2296 827.4V1179.6M2297 1052.9V1184.7M2298 393V1182.3M2299 1066.6V1180.4M2300 1071.2V1236.5M2301 1036.9V1182.4M2302 1065.5V1194.8M2303 876.9V1187.1M2304 1044.8V1181M2305 949.9V1188.8M2306 562.3V1182.9M2307 178.7V1186.4M2308 604.4V1183.9M2309 586.3V1197.5M2310 838.1V1185.4M2311 1036.2V1195.6M2312 841V1195.3M2313 1086.6V1199M2314 106.1V1186.2M2315 236.5V1198.6M2316 422.1V1193.2M2317 949.2V1196.6M2318 436.8V1187.6M2319 932.3V1194.2M2320 1042.3V1189.3M2321 667V1192.8M2322 727.1V1186.1M2323 1069.5V1189.1M2324 883.5V1184.1M2325 998.7V1184.1M2326 1045.8V1177.6M2327 588.3V1208.6M2328 925.3V1174.2M2329 1092.4V1175.3M2330 1094.6V1178.2M2331 1050.1V1168.9M2332 771.2V1212.8M2333 1037V1165.4M2334 630.2V1179.2M2335 922V1174.1M2336 304.4V1160.1M2337 839.2V1162.9M2338 1057.6V1169.2M2339 133.4V1165.3M2340 1055.2V1179.3M2341 1006.8V1151.8M2342 138.8V1162.7M2343 1065V1150.4M2344 1074.2V1152.4M2345 936.1V1150.5M2346 971.4V1157.8M2347 1080.2V1147.3M2348 1034.2V1146.7M2349 1063.9V1155.8M2350 1082.3V1142.3M2351 907V1144.6M2352 1052.3V1165.9M2353 603.6V1162.4M2354 799.8V1155.9M2355 1039.5V1159M2356 713V1136.2M2357 953.1V1135.1M2358 106.1V1147.3M2359 1014.5V1138M2360 350.5V1143.8M2361 1005.8V1135M2362 317.9V1134.1M2363 1032.6V1153.2M2364 931.7V1136.6M2365 877V1134.7M2366 915V1132.1M2367 883V1138.6M2368 892V1125.4M2369 960.8V1125.5M2370 533.4V1132.7M2371 1034.3V1123.2M2372 993.3V1131.5M2373 1043.8V1122M2374 943.1V1141.4M2375 996.8V1130M2376 877.9V1124.9M2377 1047.2V1118.9M2378 301.5V1121.5M2379 927.9V1119.8M2380 944.2V1133.7M2381 1044V1159M2382 1048.3V1133.3M2383 1054.1V1124.2M2384 855.5V1114.7M2385 979.8V1112.6M2386 886.9V1115.3M2387 738.3V1123M2388 934.1V1106.7M2389 1039.5V1110.7M2390 959.9V1110.7M2391 573V1106.7M2392 853.2V1106.2M2393 403.7V1102.5M2394 923.3V1105M2395 1048.3V1106M2396 859.5V1119.3M2397 571.2V1107.8M2398 273.2V1096M2399 582.1V1094.8M2400 393.8V1093.7M2401 668.4V1082M2402 710.7V1085M2403 384.5V1102.6M2404 819.4V1112.6M2405 359V1102.6M2406 800.6V1118M2407 939V1132.4M2408 994.1V1106.4M2409 977.4V1111.5M2410 529.7V1105.8M2411 500.5V1113.5M2412 995.5V1105M2413 550.4V1105.7M2414 775.9V1075.1M2415 933.2V1073M2416 509.3V1079.5M2417 573.6V1067.9M2418 915.4V1080.9M2419 777.2V1067.6M2420 1007V1066.5M2421 1017.4V1074.1M2422 939.3V1080.4M2423 913.9V1091.8M2424 651.1V1103.3M2425 859.3V1115.7M2426 948V1096.6M2427 1051.5V1096.5M2428 961.1V1102.1M2429 1028.8V1096.5M2430 862.1V1136.2M2431 807.1V1113M2432 971.4V1117.3M2433 1055.4V1122.3M2434 993.7V1115.2M2435 1041.2V1110M2436 890.6V1114.8M2437 1067.9V1119.2M2438 894.9V1144.1M2439 1073.7V1119.5M2440 1057.7V1148.1M2441 1043.4V1113.8M2442 1001.8V1103.6M2443 1012.2V1099.9M2444 1019.2V1104M2445 657.6V1089.7M2446 927V1075.6M2447 582.3V1089.3M2448 463.7V1075M2449 962.6V1065.6M2450 1023.9V1072.4M2451 1028.9V1067.8M2452 913.2V1066.1M2453 722.7V1105.6M2454 460V1066.6M2455 909V1071.4M2456 955.4V1077.5M2457 342V1070.4M2458 819.5V1054.5M2459 446.7V1065.3M2460 794.5V1081.4M2461 940.8V1065.6M2462 476.5V1068M2463 723.3V1075.2M2464 916.3V1068.3M2465 871.3V1064.4M2466 532.6V1077.6M2467 747.3V1071.3M2468 572.2V1068M2469 708V1088.9M2470 488.6V1085.9M2471 896.9V1088M2472 920.2V1085.9M2473 990.3V1119.1M2474 1038.2V1085M2475 1034.1V1088.8M2476 994.9V1095M2477 973.4V1092.7M2478 1062.9V1084.2M2479 1018V1089.6M2480 1006.8V1096.2M2481 917.6V1088.5M2482 526.9V1085.2M2483 845.8V1096M2484 547.7V1092.2M2485 691.1V1080.9M2486 863.8V1115M2487 1013V1100.4M2488 915.9V1116.3M2489 519.7V1136.8M2490 686.8V1161.6M2491 978.2V1155.7M2492 835.4V1173.4M2493 972.5V1206M2494 1036.2V1158.3M2495 1106V1167.4M2496 1055.1V1155.4M2497 1080V1159.1M2498 1118.7V1158M2499 1093.5V1160.3M2500 883V1166.1M2501 1114.4V1161.3M2502 1113.1V1170.7M2503 1062.7V1162.2M2504 1043V1166.4M2505 702.9V1196.5M2506 1033.1V1158.5M2507 732.1V1163.2M2508 663.8V1156.7M2509 556V1102.8M2510 1063.9V1114.3M2511 1008.8V1100.4M2512 1063.9V1100.8M2513 804.3V1122.4M2514 979.6V1122M2515 1054.3V1126.7M2516 906.5V1112.5M2517 897.5V1111.1M2518 892V1126.6M2519 1011.6V1132.7M2520 1038.5V1113.2M2521 1060.2V1125.3M2522 1063.3V1114.6M2523 1061.5V1111.7M2524 1035.8V1122M2525 1035.2V1116.6M2526 875V1112.2M2527 1017.3V1098.7M2528 639.3V1127M2529 931.4V1147.2M2530 966.8V1126.8M2531 943.8V1135.6M2532 592.8V1141.5M2533 958.4V1177.5M2534 1021.5V1183.4M2535 1045.7V1197M2536 730.7V1205.5M2537 1074.6V1189.2M2538 980.7V1182.6M2539 1112.7V1183.8M2540 1097.3V1192.4M2541 612.7V1182.4M2542 991.3V1186M2543 1080.6V1187M2544 1063.7V1195.5M2545 804.3V1208.2M2546 1099V1178.6M2547 1087.2V1175.7M2548 1123.3V1175.6M2549 1024.3V1178.5M2550 703.2V1200.3M2551 1072V1205.1M2552 664.2V1192.9M2553 1072.3V1165.9M2554 1110.1V1177.9M2555 749.9V1167.1M2556 948.5V1179M2557 838.8V1188.6M2558 1022.1V1188.7M2559 1083.4V1185.8M2560 1133.4V1185.9M2561 1036.2V1197.2M2562 1100.4V1187.8M2563 1013.9V1189.3M2564 1126.7V1187.3M2565 717.1V1188.7M2566 1055.9V1192.7M2567 1095.7V1186.3M2568 1071.8V1194.7M2569 901.1V1190.5M2570 1100.7V1194.3M2571 765.5V1189.7M2572 957.2V1211.7M2573 738.3V1195M2574 1036.8V1206.9M2575 1023.4V1169.9M2576 761.8V1163.3M2577 1079.1V1174.1M2578 1070V1156.2M2579 1052.8V1149.2M2580 614.6V1148.7M2581 914.1V1147.9M2582 729.3V1139.1M2583 1006V1135.2M2584 1095.2V1142.3M2585 863.7V1147.3M2586 1101.3V1155.3M2587 983.2V1148M2588 1101.1V1150.7M2589 1082.4V1149.3M2590 882.1V1146M2591 1022.9V1154.4M2592 1059.3V1155M2593 800V1165.5M2594 1038.3V1153.1M2595 636.4V1156.1M2596 977.9V1156.1M2597 1046.4V1147.6M2598 1107.8V1171.6M2599 1060.5V1160.6M2600 1107.3V1168.8M2601 1069V1171.2M2602 1094.8V1167.5M2603 1099.1V1208.2M2604 1109.4V1198.6M2605 693.3V1207.5M2606 971.7V1201.7M2607 983.1V1204.4M2608 960.5V1208.1M2609 1062V1218.1M2610 1089.8V1194.4M2611 1085.3V1193.1M2612 1090.2V1190.3M2613 1060.6V1189.6M2614 977.7V1190.1M2615 781.6V1164.2M2616 1049.9V1178M2617 1075.4V1133.6M2618 1047.6V1120.3M2619 1022.4V1118.7M2620 881.6V1103.6M2621 929.7V1109.7M2622 759V1100.7M2623 931.2V1107.1M2624 643.5V1081.2M2625 997.2V1073.7M2626 1025.7V1088.4M2627 814.2V1066M2628 949.5V1066.8M2629 762V1072.9M2630 1004.7V1074.4M2631 1005.4V1074.1M2632 635.3V1065.4M2633 964.2V1088.7M2634 994.4V1053.3M2635 815.6V1042.4M2636 840.4V1075.1M2637 593.4V1065.5M2638 826.9V1047.8M2639 841.6V1041M2640 549V1037.2M2641 874.9V976.3M2642 614.6V1058.8M2643 873.8V1062.7M2644 614.6V1067.9M2645 857.5V1060.2M2646 647.2V1070.3M2647 934V1059.4M2648 850.2V1091.4M2649 594.3V1085.4M2650 669.8V1030.3M2651 833.8V977.7M2652 698.1V987.9M2653 861.2V972.1M2654 618.3V973M2655 915.9V972.4M2656 658.5V990.9M2657 892.7V973.1M2658 581.5V977.3M2659 698.1V979M2660 893.6V1012.5M2661 734.9V1053.5M2662 957.8V1055.9M2663 995.8V1047.4M2664 926.6V1048M2665 851.9V1055.4M2666 748.5V1013.2M2667 816.7V944.6M2668 777.4V891.3M2669 853.6V896M2670 866.1V895.5M2671 842.9V890.8M2672 845.5V891.2M2673 798.7V883.2M2674 850.4V875.2M2675 839.9V875.3M2676 807.9V891.4M2677 743.5V877.7M2678 432V850.9M2679 601.2V822.3M2680 586.8V755.4M2681 573.4V667.5M2682 616.4V659.9M2683 617.3V663M2684 588V695.8M2685 434V666.5M2686 542.1V631M2687 390.1V602M2688 533.6V557.4M2689 463.7V551.9M2690 535.6V567.7M2691 535.3V574.7M2692 531.8V573.8M2693 541.7V574.4M2694 549.3V589M2695 552.1V572.9M2696 437.4V572.9M2697 539.6V602.8M2698 542V586.1M2699 545V568.3M2700 553.2V570.4M2701 405.7V576M2702 532.5V568.1M2703 370.3V567.3M2704 512.8V574.2M2705 513V550.4M2706 517.3V547.4M2707 515.4V553.8M2708 525.4V550.4M2709 532.5V553.5M2710 471.3V554.4M2711 527.8V551.7M2712 521V552.7M2713 520.1V553.5M2714 531.3V566.8M2715 534.4V553.2M2716 527.6V550.6M2717 536.6V555M2718 536.4V551.7M2719 533.9V558.4M2720 508.7V566.6M2721 525.6V572.2M2722 524.3V568.4M2723 551.3V569.1M2724 449.6V610.2M2725 522.4V572.9M2726 434V583.7M2727 496.1V607.9M2728 436.3V609.6M2729 567.1V631M2730 574.3V640.5M2731 598.4V642.1M2732 614.3V660.7M2733 619.8V696.4M2734 616.4V704.1M2735 647.6V711.6M2736 671V701.1M2737 662.8V710.8M2738 552.2V713.5M2739 663.6V725.9M2740 659.8V712M2741 677.9V720.9M2742 696V718.3M2743 700.8V721.1M2744 702.7V720.4M2745 697.9V739.6M2746 680.2V720.3M2747 700.3V735.8M2748 696.3V713.8M2749 694.6V731M2750 697.6V732.9M2751 696.4V745.4M2752 702.8V747.7M2753 719V752.9M2754 729.6V759.5M2755 590.6V745.5M2756 731.1V745.8M2757 731.4V754.1M2758 721.2V763.5M2759 573.4V769M2760 728.8V766.2M2761 737.5V768.3M2762 725.3V778.3M2763 637.1V767.5M2764 674.3V755.5M2765 722.3V766.4M2766 713.2V765.9M2767 728.2V762.6M2768 745.8V769.7M2769 734.1V765.2M2770 726.6V766.8M2771 736.8V755.7M2772 736.4V759.1M2773 738.2V779.8M2774 740.7V762M2775 719.5V761M2776 736.4V765M2777 747.6V759.6M2778 615.9V778.8M2779 741.8V793.7M2780 735.4V808.4M2781 761.5V812.4M2782 776.9V805M2783 767.4V812.1M2784 757.6V819.3M2785 734.2V794.3M2786 737.6V799.3M2787 517.8V819.7M2788 759V834.6M2789 767.7V826.7M2790 804.6V821.7M2791 606.8V824.6M2792 811.9V823.5M2793 797V827.5M2794 723.4V825.7M2795 777.8V834.6M2796 775.5V831.9M2797 725.9V857.6M2798 799.5V867.5M2799 819.5V892.9M2800 837.1V877.5M2801 854.8V895.3M2802 846.3V876.9M2803 836.1V877M2804 638.1V871.7M2805 775.1V864.8M2806 769.6V865.6M2807 764.5V805.8M2808 613.9V788.8M2809 763.4V783.8M2810 765.2V782.1M2811 767.9V782M2812 754.6V784.1M2813 726.9V782.9M2814 558.3V779M2815 710.5V765.8M2816 714.1V780.5M2817 700.8V779.3M2818 729.6V785M2819 756V786M2820 761.5V786.9M2821 752.3V788.7M2822 761V788.3M2823 731.2V783.8M2824 692.8V779.7M2825 644.2V787.4M2826 636.1V755M2827 608.8V715M2828 655.8V727.5M2829 667.3V737.3M2830 688.7V734.2M2831 709.8V745.3M2832 687.5V734.9M2833 697.1V732.5M2834 686.5V726.4M2835 692.9V722.5M2836 697V736.4M2837 702.5V754.2M2838 710.9V762.7M2839 725.4V772.1M2840 727.3V775.3M2841 750.4V784.8M2842 756.2V789.3M2843 759.7V777M2844 756.2V774.6M2845 746.4V794.6M2846 724.1V776.1M2847 617.9V767.9M2848 684V762.9M2849 659.7V737M2850 603.8V726.8M2851 693.2V725.8M2852 697.6V734.6M2853 707.3V726.9M2854 698.7V725.1M2855 699.1V728.8M2856 683.7V732.3M2857 629.6V715.4M2858 589.1V720.8M2859 532V704.6M2860 582.6V659.8M2861 600.9V614.7M2862 577.3V621.8M2863 512.8V616.3M2864 549.4V617.6M2865 555V600.2M2866 555.5V598.1M2867 526.9V586.4M2868 548.3V578.6M2869 544.3V579.4M2870 518.3V571.4M2871 473.9V564.2M2872 526.6V570.6M2873 516.8V550.5M2874 515.5V566.4M2875 510.2V540M2876 494.6V552.7M2877 513.4V537.5M2878 516.6V541.6M2879 521V535.5M2880 519.7V534.9M2881 473.4V551M2882 511.8V534.4M2883 517.5V542.6M2884 517V548.5M2885 504.4V547.8M2886 525.2V544.3M2887 525.6V549.7M2888 527.3V554.3M2889 528V568.4M2890 493.6V582.5M2891 537.2V599.5M2892 548.2V625.3M2893 559.6V632.9M2894 583.2V645.6M2895 596.3V646.9M2896 610.1V666.7M2897 608.7V677.3M2898 607.2V688.6M2899 648.7V692.9M2900 662.9V708.7M2901 674.2V700.2M2902 603.8V708.6M2903 681.8V722.2M2904 683.2V757.4M2905 694.9V771M2906 709.1V788.3M2907 736.8V779.3M2908 752.9V778.9M2909 758.5V777.1M2910 761.5V782.6M2911 750.8V782.8M2912 662.4V792.9M2913 760.3V808.3M2914 643.2V802.4M2915 772.8V803.7M2916 766.8V804.6M2917 779V806.5M2918 763.5V819.4M2919 763.4V814M2920 653.3V818.1M2921 726.2V824M2922 797.4V827.6M2923 678.6V820.1M2924 787.7V816.7M2925 796.8V823.1M2926 787.6V822.9M2927 801.6V818.2M2928 800.6V814.2" stroke="#c0c0c0" stroke-width="2.4" fill="none"/>
<path d="M213.2 1170.9 214.2 1171.9 216.2 1167.1 218.2 1174.6 220.2 1169.8 222.2 1173.3 224.3 1172.9 226.3 1172.5 228.3 1180.9 230.3 1177.9 231.8 1175.3 233.4 1173.9 235 1176 236.7 1186.8 238.4 1193.1 240.1 1186.4 241.8 1190.1 243.5 1184 245.2 1180.7 246.8 1179.9 248.5 1178.9 250.2 1179.1 251.9 1182.1 253.6 1184 255.1 1182.7 256.6 1182 258.6 1183.6 260.7 1190.1 262.3 1197.5 264 1191.9 265.7 1195.1 267.7 1190.1 269.8 1182 271.4 1174 273.1 1171.9 274.8 1169.8 276.8 1170.7 278.9 1165.8 280.9 1183 282.9 1160.6 284.9 1156.7 286.6 1165.7 288.3 1177 290 1188 291.5 1180.1 293 1167.8 295 1178.5 297 1179.9 299.1 1167.6 301.1 1165.8 303.1 1173.7 305.1 1179.9 306.8 1181.8 308.5 1183.7 310.2 1176.9 312.2 1180.7 314.2 1180.3 316.3 1187 318.3 1184 320.3 1185.3 322.3 1185 324.3 1186.4 326.4 1193.3 328.4 1195.1 330.4 1191.7 332.4 1196.9 334.5 1199.2 336.1 1197 337.8 1189.6 339.5 1192.1 341.5 1193.5 343.6 1192.1 345.6 1194.9 347.6 1201.6 349.6 1201.2 351.6 1200.1 353.7 1196.2 355.7 1195.1 357.7 1200.1 359.7 1206.2 361.7 1202.4 363.8 1200.5 365.8 1196.1 367.8 1199.3 369.8 1200.4 371.9 1204.2 373.9 1212.2 375.9 1206.3 377.9 1207.2 379.9 1204 382 1211.8 384 1210.7 386 1210.3 387.5 1200.1 389 1199.2 391.1 1200.8 393.1 1202.1 395.1 1205 397.1 1211.3 398.9 1209.9 400.7 1204.6 402.4 1204 404.2 1203.2 406.2 1209.4 408.2 1208.2 410.3 1199.3 412.3 1203.2 414.3 1200.2 416 1194.9 417.7 1199.5 419.4 1200.2 421.1 1203.9 422.7 1207.6 424.4 1206.2 426.4 1199 428.5 1202.2 430.5 1199 432.5 1216.4 434.5 1217.3 436.6 1216.7 438.6 1216.3 440.6 1209.7 442.6 1208 444.6 1204.2 446.7 1214.3 448.7 1212.2 450.7 1203.2 452.2 1206.8 453.7 1214.3 455.4 1212.4 457.1 1209.7 458.8 1210.3 460.8 1206.5 462.8 1205.8 464.9 1196 466.9 1196.1 468.7 1194.2 470.4 1196.8 472.2 1202.8 474 1204.2 476 1190.1 478 1196.7 480 1197.1 481.8 1197.8 483.6 1197.7 485.3 1190.3 487.1 1192.1 489.1 1197.4 491.1 1205.5 493.2 1205.2 495.2 1202.8 497.2 1201.7 499.2 1196.6 501.3 1194.1 502.8 1189.3 504.3 1178.9 506 1182.5 507.7 1181.2 509.3 1185 511.4 1185.4 513.4 1181.4 515.4 1179.7 517.4 1178.9 519.5 1182.3 521.5 1186.1 523.5 1186.1 525.5 1188 527.2 1187.7 528.9 1183.2 530.6 1173.9 532.4 1174.9 534.2 1174.8 536 1179 537.8 1178.3 539.7 1179.9 541.7 1185.9 543.7 1188.9 545.7 1192.1 547.8 1189.1 549.8 1184.9 551.8 1181 553.5 1181.9 555.2 1177.3 556.9 1177.9 558.4 1181.9 559.9 1189 561.9 1185.8 563.9 1178.9 565.6 1182.1 567.3 1184.8 569 1190.1 570.7 1185.8 572.4 1187.7 574 1186 576.1 1176.2 578.1 1182 580.1 1173.9 582.1 1176 584.1 1177.3 586.2 1178.9 587.9 1175.6 589.5 1176.5 591.2 1172.9 593.2 1176.1 595.3 1182.6 597.3 1182 599.3 1175.5 601.3 1177.3 603.4 1175.8 605.4 1168.8 607.1 1172.1 608.7 1180.9 610.4 1175.9 612.1 1177.2 613.8 1176.7 615.5 1173.9 617.5 1170.4 619.5 1179.4 621.6 1183 623.1 1180.3 624.6 1168.8 626.4 1169.1 628.1 1167 629.9 1166.4 631.7 1165.8 633.4 1168.9 635.2 1169.7 637 1165.3 638.7 1171.9 640.8 1160.7 642.5 1164.3 644.3 1170.3 646.1 1168.2 647.8 1175.9 649.9 1177.2 651.9 1169.8 653.9 1171.9 655.7 1169.8 657.4 1166.6 659.2 1160.3 661 1155.7 663 1159.7 665 1168.3 667 1171.9 668.7 1178.7 670.4 1179.2 672.1 1189 674.1 1179.5 676.1 1173.9 678.2 1174.6 680.2 1176.3 682.2 1177.6 684.2 1173.9 685.7 1181.3 687.3 1185 689.3 1184.7 691.3 1179.7 693.3 1180.9 695.3 1178.3 697.4 1178.9 700 1173.4 701.8 1167.6 703.5 1162.8 705.3 1169.3 707.1 1167.3 708.8 1167.2 710.6 1172.2 712.4 1178.4 714.2 1179.5 716.2 1178.4 718.2 1174.4 720.2 1179.9 722.2 1185.5 724.3 1175.7 726.3 1168.4 728.3 1174.4 730.3 1176.4 731.8 1177 733.4 1168.4 735.4 1167.8 737.4 1168.4 739.4 1171.5 741.4 1176.4 743.1 1169.4 744.8 1172.5 746.5 1169.4 748.5 1174.5 750.5 1190.6 752.6 1193.7 754.6 1195.7 756.6 1202.2 758.6 1199.7 760.7 1193.3 762.7 1188.6 764.4 1187.4 766.2 1174.5 768 1179.9 769.8 1174.4 771.8 1173.2 773.8 1176.7 775.8 1178.5 777.3 1175.7 778.9 1176.4 781.3 1190.6 783.1 1181.2 784.9 1177.5 786.6 1180.1 788.4 1174.4 790.2 1182.5 792 1191.6 794 1182.9 796 1177.5 797.6 1186.8 799.1 1189.6 800.8 1192.6 802.4 1181.9 804.1 1187.6 805.9 1180.3 807.7 1176.6 809.4 1177.7 811.2 1172.4 813.2 1176.3 815.2 1182.5 816.9 1178.7 818.6 1175.4 820.3 1170.4 822 1167.3 823.7 1172.2 825.4 1164.3 826.9 1170.2 828.4 1170.4 830.1 1164.3 831.8 1151.5 833.4 1150.2 835 1145.1 836.5 1146.1 838 1159.9 839.5 1172.4 841.5 1163.6 843.6 1149.2 845.6 1162.3 847.3 1160 848.9 1159.2 850.6 1155.2 852.6 1154.5 854.7 1146.1 856.7 1124.9 858.2 1122.3 859.7 1129.9 861.7 1143.1 863.8 1154.2 865.3 1150.1 866.8 1143.1 868.5 1145.6 870.2 1148.2 871.9 1151.2 873.9 1145.5 875.9 1132 876.9 1127.9 878.4 1134.6 879.9 1144.1 882 1142.2 884 1137.7 886 1138 888 1125.9 890.1 1128.3 892.1 1123.9 893.6 1133.2 895.1 1146.1 896.6 1151.2 898.1 1149.2 899.7 1144 901.2 1135 903.2 1127.8 905.2 1128.9 907.2 1150.2 908.9 1144.2 910.6 1143.9 912.3 1138 914 1139.7 915.7 1141.5 917.3 1135 919.4 1145.6 921.4 1150.2 923.4 1158.3 925.4 1161.3 927 1146.1 928.5 1135 930.2 1138.9 931.8 1146.2 933.5 1150.2 934.5 1133 936.6 1141.2 938.6 1139 940.1 1132.7 941.6 1134 943.6 1141.2 945.7 1135 947.7 1146.2 949.7 1159.3 951.2 1153.1 952.7 1154.2 953.7 1111.7 955.8 1118.5 957.8 1121.9 959.8 1126.8 961.8 1133 963.3 1127.4 964.9 1125.9 966.9 1124 968.9 1115.8 970.6 1116.4 972.3 1119.9 974 1121.9 976 1126.8 978 1138 980 1103.7 981.5 1100 983.1 1090.5 984.7 1092 986.4 1108.6 988.1 1111.7 989.6 1095.7 991.1 1087.5 992.7 1075.4 994.2 1064.2 995.7 1083.3 997.2 1103.7 999.2 1065.2 1000.7 1068.1 1002.3 1066.3 1004.3 1078.9 1006.3 1080.4 1008.3 1083.3 1010.4 1080.4 1011.9 1091.9 1013.4 1103.7 1014.9 1086.3 1016.4 1076.4 1017.9 1078.1 1019.5 1073.3 1021.5 1100.6 1023.2 1092.4 1025 1089.3 1026.8 1081.2 1028.5 1078.4 1030.2 1087.1 1031.9 1092 1033.6 1095.6 1035.6 1078.5 1037.6 1069.3 1039.2 1052.2 1040.7 1035.9 1042.2 1044 1043.7 1053.1 1045.7 1074 1047.8 1087.5 1049.4 1075 1051.1 1063.9 1052.8 1051.1 1054.8 1070.5 1056.9 1081.4 1058.9 1072.9 1060.9 1058.2 1062.4 1067.4 1063.9 1084.5 1065.4 1067.5 1067 1039 1069 1032.4 1071 1029.9 1073 1020.8 1075.1 1017.7 1077.1 1049.1 1079.1 1041.7 1081.1 1033.9 1083.1 1045 1085.2 1051 1087.2 1061.2 1089.2 1010.7 1090.9 1027.9 1092.6 1040.1 1094.3 1054.1 1096 1046.5 1097.8 1041 1099.6 1026.1 1101.3 1016.7 1102.9 1041.7 1104.4 1063.2 1106.4 1071.3 1108.4 1070.3 1110.4 1054.5 1112.5 1030.9 1114.5 1030.9 1116.5 1022.8 1118.5 1009.4 1120.5 995.5 1122.6 991.4 1124.6 1004.6 1126.6 991.4 1128.3 995.6 1130 995.9 1131.7 1000.5 1133.3 1011.8 1135 1030.5 1136.7 1043 1138.4 1027.7 1140.1 1023.2 1141.8 1009.6 1143.8 1025.5 1145.8 1041 1147.3 1041.6 1148.8 1044 1149.9 1022.8 1151.5 1019.9 1153.2 1016.5 1154.9 1014.7 1156.4 1034.6 1157.9 1051.1 1159.5 1042.7 1161 1040 1162.5 1054.3 1164 1070.3 1166 1035.9 1167.7 1043 1169.4 1049 1171.1 1053.1 1172.6 1040.5 1174.1 1037.9 1175.6 1059.9 1177.2 1073.3 1178.8 1061.6 1180.5 1053.7 1182.2 1046 1183.7 1053.2 1185.2 1063.2 1187.3 1030.9 1188.8 1056.1 1190.3 1086.5 1192.3 1076.9 1194.3 1067.3 1195.9 1090.2 1197.4 1115.8 1200 1049.8 1202 1091.9 1204 1120.6 1205.7 1101.1 1207.4 1079.6 1209.1 1055.9 1210.6 1054.9 1212.1 1055.9 1213.8 1079.5 1215.5 1091.9 1217.2 1110.5 1218.7 1078 1220.2 1036.7 1221.9 1058.4 1223.6 1088.2 1225.3 1113.5 1227.3 1073 1229.3 1044.8 1230.8 1087.1 1232.3 1114.5 1234.4 1097.5 1236.4 1082.2 1237.9 1098.8 1239.4 1104.4 1240.9 1083.4 1242.5 1066 1244.1 1086.8 1245.8 1094.2 1247.5 1112.5 1249 1098.7 1250.5 1080.2 1252.6 1093.4 1254.6 1104.4 1256.6 1097.9 1258.6 1082.2 1260.7 1092 1262.7 1094.3 1263.7 1061 1265.7 1073.3 1267.7 1057.9 1269.8 1079.4 1271.8 1096.3 1273.8 1064 1275.3 1090.3 1276.8 1107.5 1278.3 1091.9 1279.9 1083.2 1281.5 1097.6 1283.2 1103.9 1284.9 1112.5 1286.6 1102.9 1288.4 1079.2 1290.2 1086.9 1292 1090.3 1293.7 1108.3 1295.4 1109.1 1297 1116.6 1299.1 1102.4 1301.1 1021.5 1302.6 1079.2 1304.1 1102.4 1305.6 1088.8 1307.2 1068 1308.8 1096.9 1310.5 1101.9 1312.2 1121.6 1313.9 1121.1 1315.6 1097.3 1317.3 1092.3 1319.3 1110.5 1320.8 1106.4 1322.3 1080.2 1324.3 1083.7 1326.4 1080.2 1327.9 1110.1 1329.4 1115.5 1331.8 1039.7 1334.1 1077.1 1336.5 1107.5 1338.5 1043.8 1340.5 1086.8 1342.5 1041.7 1344.6 1109.5 1346.6 1102.8 1348.6 1092.3 1350.1 1080.5 1351.6 1019.5 1353.2 1070.2 1354.7 1106.4 1356.7 1103 1358.7 1084.2 1360.2 1102.9 1361.7 1124.6 1363.3 1118.3 1364.8 1118.6 1365.8 1051.9 1367.8 1055.8 1369.8 1050.8 1371.9 1086.2 1372.9 999.3 1374.4 1079.1 1375.9 1089.3 1376.9 981.1 1378.9 991.7 1381 960.9 1383 1037.7 1385 1090.3 1386.7 1076.9 1388.4 1061.3 1390.1 1045.8 1391.6 1068.1 1393.1 1042.8 1395.1 1106.4 1397.1 1008.4 1399.2 1047.9 1401.2 1080.2 1403.2 1074.2 1405.2 1003.3 1407.2 1088.2 1408.8 1061.8 1410.3 1017.5 1412.3 1109.5 1414.3 1112.7 1416.3 1098.4 1418.4 1021.5 1420.4 1074.1 1422.4 964.9 1424.4 1000.6 1426.4 1008.4 1428.5 1102.4 1430 1080.3 1431.5 1048.8 1433 1077.6 1434.5 1105.4 1436.6 944.7 1438.6 907.3 1440.1 1048.7 1441.6 1110.5 1443.3 1058.8 1445 1050.9 1446.7 960.9 1448.2 1022.4 1449.7 1057.9 1451.2 1076.7 1452.7 1064 1454.3 924.5 1456.1 967.8 1457.8 948.7 1459.8 1082.2 1461.8 1008.4 1463.3 1093.8 1464.9 1080.2 1466.4 1062.9 1467.9 1026.6 1469.4 1083.8 1470.9 1090.3 1472.9 1055.9 1474.5 1085.3 1476 1109.5 1478.6 1015.5 1480.3 1092.8 1482 1106.4 1483.8 1083.2 1485.5 1053.9 1488.1 1092.3 1489.8 1102 1491.5 1049.1 1493.2 1025.6 1495.6 1113.5 1497.9 1074 1500.2 948.7 1501.8 1046 1503.3 1100.4 1504.8 1115.2 1506.3 1121.6 1508.3 1009.4 1510.4 991.2 1512.4 1076.1 1514.4 999.3 1516.4 1044.6 1518.4 1117.4 1520.5 1134.8 1522 1064 1523.5 970 1525.3 1102.6 1527.1 1114.5 1528.9 1065.6 1530.6 995.2 1532.3 1059.7 1533.9 1046.7 1535.6 1043.8 1536.6 1113.5 1538.7 1119.5 1540.7 1115.5 1543.3 1029.6 1545 1075.3 1546.7 1105.4 1548.8 1062 1550.8 1127.3 1552.8 1115.5 1554.5 1112.5 1556.2 1126.6 1557.9 1068 1559.4 1122.1 1560.9 1156 1563.2 1143.2 1565.5 1014.9 1567.8 1082.5 1570 1148.6 1571.5 1133.5 1573 1098.3 1575.1 1106.7 1577.1 1096.6 1579.1 1135.8 1581.1 1142.4 1582.8 1143.7 1584.5 1137.1 1586.2 1145.8 1588.4 1111.4 1590.6 1063.3 1592.4 1133.5 1594.3 1153.5 1596.3 1120.9 1598.3 1086.1 1599.8 1150.8 1601.3 1167.2 1603.4 1101 1605.4 1013.8 1607.1 1149.9 1608.7 1026.4 1610.4 1024.3 1611.9 1114.8 1613.5 1155.9 1615.5 1109.5 1617.5 1060.2 1619.5 1169.5 1621.6 1139.5 1623.6 1111.5 1625.6 1060.8 1627.1 1129.9 1628.6 1168.2 1630.7 1064.2 1632.4 1098.8 1634.2 1155.6 1636 1151.8 1637.7 1171.9 1639.7 1108.4 1641.8 1129.8 1643.8 1073 1645.8 1169.1 1647.5 1171.8 1649.2 1167.3 1650.9 1171.1 1652.8 1084.6 1654.6 1137.8 1656.5 919.4 1658.4 1026.4 1660.3 1107.3 1662.1 1104.8 1664 1171.1 1665.5 1155.4 1667 1020.5 1669.1 1043.4 1671.1 1053.8 1672.1 1148.8 1673.8 1165.1 1675.5 1162.4 1677.2 1157.9 1678.7 1163.5 1680.2 1110.4 1681.7 1042.9 1683.2 962.8 1684.7 1133 1686.3 1150.9 1687.8 1103.1 1689.3 1045.7 1691.3 1173.1 1692.8 1172.2 1694.3 1015.4 1695.9 1037.4 1697.4 991.1 1699.4 1142.8 1700 1142 1702.4 992.8 1704 1168.9 1705.7 1074.1 1707.3 1100.7 1709.2 1053.4 1710.7 1168.4 1712.1 1174.7 1713.9 1142 1715.8 1094.7 1717.6 1173.8 1719.4 1159 1721.6 1131.5 1723.8 1098.3 1725.2 1173.7 1726.7 1166.2 1728.3 1169.7 1729.9 1172.8 1731.5 1166.2 1733.4 1110.8 1735.2 1009.8 1736.8 1143.9 1738.4 1150.8 1740 1201.4 1742.5 1201.4 1744.3 1156.3 1746.1 983.1 1747.7 1071.7 1749.3 1162.8 1750.9 1167.4 1753.1 1112.8 1755.3 1048.6 1757.4 1159.8 1759.4 1184.4 1761.5 1190.3 1763.5 1194.9 1765.5 1195.3 1767.3 1168.1 1769.1 1131.1 1771.2 1135.5 1773.3 1065.6 1774.8 1135.5 1776.4 1183.2 1778 1174.3 1779.7 1162.9 1781.3 1144.4 1783.7 917.6 1785.3 1136.2 1786.9 1086.2 1788.5 1137.1 1790.4 1167.7 1792.2 1162.7 1794 1177.8 1795.8 1184.4 1797.5 990.3 1799.4 1056 1801.2 1158.6 1803.1 1173.5 1805.1 1170.8 1807.1 1174.7 1809.2 1168.7 1810.9 1101.1 1812.7 1129.4 1814.5 958.8 1816.4 1120.1 1818.5 1077.6 1820.6 991.6 1822.8 1146.5 1824.9 1169.9 1826.6 1132.7 1828.2 1129 1829.8 1015.8 1832.2 1157.7 1833.7 1128.6 1835.1 1064.3 1837.1 1174.7 1839.1 1185.2 1841.1 1176.4 1843.1 1167.4 1844.8 1172.1 1846.4 1107 1848 1074 1849.6 1156.5 1851.2 1147.4 1852.8 1186.9 1854.7 1175 1856.5 1105.7 1858.3 1127.4 1860.1 1014.6 1861.6 1096.8 1863 1182 1864.6 1159.9 1866.2 1052.2 1868 1068.6 1869.8 992.8 1871.6 1182.8 1873.5 1125 1875.3 1144.3 1877.1 1161.4 1879.2 1129.8 1881.2 996.4 1883.4 1094 1885.6 1173.5 1887.2 1181.8 1888.7 1066.8 1890.8 1117.7 1892.9 1161.4 1895.3 945.5 1896.9 1118.2 1898.4 918.8 1900.9 1131.1 1902.5 1145.8 1904.1 1170.1 1905.7 1168.7 1907.4 1105.1 1909.1 1025.5 1911 1146 1912.8 1035.3 1914.7 1001.3 1917.1 1103.2 1919.6 977 1921.4 1160.5 1923.2 980.6 1925 1076.1 1926.8 1132.3 1928.5 956.4 1930.5 1054 1932.4 856.9 1934.5 930.1 1936.5 870.3 1939 1125 1940.4 1165 1941.9 1159 1944.1 1111.9 1946.2 1060.7 1948.7 1179.6 1950.5 1180.4 1952.3 1001 1953.8 1015.6 1955.2 983.7 1957.6 1138.6 1959.2 1146.2 1960.8 1025.4 1962.6 1098.6 1964.4 1147.5 1965.9 1190.4 1967.3 1172.6 1969 1138.8 1970.6 1163.2 1972.2 1047.1 1973.8 1117.1 1975.4 1149.8 1977 1173.3 1978.6 1159.1 1980.2 1154.1 1981.4 1070.3 1983.4 1150.8 1985.5 1127.6 1987.5 1136.3 1989.3 1153.2 1991.1 1019.4 1992.7 1027.5 1994.3 996 1996.5 1098.8 1998.6 1154.4 2000.8 1123.8 2002.8 1048.6 2004.4 1090.1 2006 1137.1 2007.6 1134.8 2009.1 1106.8 2010.5 1047.4 2013 1148.1 2014.8 1114.6 2016.6 998.9 2018.4 1078.4 2020.2 1111.7 2021.7 1122.3 2023.1 1028 2025.1 1131.1 2027 1005 2029.1 1087.2 2031.1 1128.7 2032.8 1126.9 2034.4 1084.6 2036 1059.6 2038.4 1127.5 2040.9 1055.9 2042.7 1115.7 2044.5 1102 2046.6 1068.7 2048.6 1014.7 2051.3 1092.3 2052.5 997.7 2054.6 1085.1 2056.6 1006.2 2058.8 1057 2061 1098.4 2063.1 1080.1 2065.1 998.9 2066.9 1050.7 2068.8 1063.2 2070.2 1069.3 2071.7 986.8 2073.2 1042.5 2074.8 1072.9 2077.2 1037.7 2079.3 1079.5 2081.3 1072 2083.3 1083.8 2084.8 1079.7 2086.2 1022 2088.4 1058.4 2090.6 1082.6 2092.4 1066.9 2094.2 1018.3 2096 1026.3 2097.9 1002.5 2099.7 1075.7 2101.5 1060.8 2103.9 968.6 2106 1006.7 2108 1069.9 2110 1053.5 2112.2 983.6 2114.4 876.4 2116.1 1023.9 2117.8 1055.9 2119.7 1076.8 2121.6 1085 2123.1 1062.6 2124.6 899.4 2126.7 963.7 2128.9 1000.1 2130.6 1092.3 2132.4 1086.2 2134.3 1080.2 2136.1 1031.3 2137.9 960.1 2140 1064.6 2142 1069.3 2143.9 1046.8 2145.7 1052.1 2147.6 991.6 2149.4 1046.7 2151.2 1086.2 2153.3 1087.8 2155.3 1085.8 2157.3 1089.9 2158.8 1067.3 2160.2 998.9 2161.8 1010.5 2163.4 1007.4 2165.8 1081.4 2167.9 1077.3 2169.9 1029.2 2171.5 1049 2173.1 1060.8 2175.5 1018.3 2177.5 1061.6 2179.5 1017.4 2181.6 1001.3 2183.1 1055.6 2184.7 1072.9 2186.8 1058.4 2188.8 1032.9 2190.4 1066.7 2192 1074.1 2193.4 1052.8 2194.9 1029.2 2196.4 1045.1 2197.8 973.4 2199.7 987.7 2201.5 1054.3 2203.4 1009.8 2205.8 1051.1 2207.4 1058.4 2209.1 1074.6 2210.7 1065.6 2213.1 1037.7 2214.9 1033.1 2216.7 1017.1 2219.2 1072.9 2221.6 1026.8 2223.4 1083.4 2225.2 1088.7 2226.8 1082.2 2228.5 1087.1 2230.1 1046.2 2231.9 1046.3 2233.7 1020.7 2235.5 1072.8 2237.4 1051.1 2238.9 1047.1 2240.5 1022 2242.3 1087.5 2244.1 1066.6 2245.9 1082.6 2247.8 1097.2 2249.5 1036.5 2251.3 1080.6 2253.1 1093.5 2254.9 1071.4 2256.8 1054.7 2258.6 1116.9 2260.4 1091.1 2262.5 1056.3 2264.5 994.1 2266.1 1086.4 2267.7 1091.1 2270.1 1043.8 2271.9 1075.1 2273.8 1086.2 2276.2 1053.5 2278 1088.8 2279.8 1064.4 2281 1110.5 2282.6 1096.9 2284.2 1069.3 2285.9 1133.9 2287.6 1134.8 2289.8 1114.1 2291.9 1087.5 2294.4 1119 2295.8 1125.8 2297.3 1072.9 2299.2 1133.5 2300 1134.3 2302.4 1122.2 2304.2 1106.3 2306.1 1076.7 2307.6 1140 2309.1 1118.1 2310.6 1137.1 2312.1 1146.4 2313.6 1142.1 2315.2 1060.5 2316.7 1103.3 2318.2 1146.4 2319.7 1151.5 2321.2 1079.7 2323.3 1128 2325.3 1162.6 2326.8 1146.7 2328.3 1093.9 2330.3 1127.2 2332.3 1140.4 2334.4 1112.7 2336.4 1067.6 2338.4 1112.1 2339.9 1091.4 2341.4 1064.6 2343.5 1112.2 2345.5 1120.2 2347.5 1125.8 2349.5 1126.2 2350.5 1087.8 2352.6 1114.1 2354.6 1120.2 2356.4 1077.8 2358.2 1019.1 2360.7 1111.1 2362.7 1109.7 2364.7 1051.4 2366.4 1060 2368.1 1081.3 2369.8 1048.4 2371.8 1077.1 2373.8 1109 2375.8 1096.4 2377.8 1056.5 2380.5 1102 2382.7 1090.1 2384.9 1078.7 2386.9 1050.4 2388.5 1077.7 2390 1075.7 2392.6 1046.4 2394.8 1060.8 2397 1074.7 2398.1 1004.9 2400.1 983.7 2401.8 1020.7 2403.5 966.5 2405.1 1021.1 2406.7 1060.7 2408.2 1101 2410.2 1021.1 2411.7 1058.9 2413.2 1062.5 2414.7 1023.8 2416.3 978.6 2417.8 1036.8 2419.3 1060.5 2421.3 1045.5 2423.3 1023.1 2424.8 1060.2 2426.4 1071.6 2428.4 1083.3 2430.4 1087.8 2432.4 1065.6 2435.1 1102 2437.3 1097.6 2439.5 1088.8 2441.5 1066.5 2443.6 1030.2 2445.2 1039 2446.9 1032.1 2448.6 1028.2 2450.1 1054.5 2451.6 1067.6 2453.2 1030.6 2454.7 991.8 2456.2 1004.8 2457.7 958.4 2459.7 1051.4 2461.7 991.8 2463.8 1062.5 2465.3 1031.7 2466.8 999.9 2468.3 1038.8 2469.8 1053.4 2471.9 1030.2 2473.4 1052.9 2474.9 1075.7 2476.7 1077.5 2478.4 1077.2 2480.2 1068.1 2482 1072.6 2483.5 1037.5 2485 1003.9 2486.5 1067.1 2488 1065.6 2489.5 1074.7 2491.1 1070.6 2493.1 1120.4 2495.1 1150.5 2497.1 1134.1 2499.2 1128.2 2501.2 1141.6 2503.2 1151.5 2504.2 1061.5 2506 1050 2507.8 1047.4 2510.3 1096.9 2512.3 1065.6 2514.3 1097.9 2515.8 1087.9 2517.3 1060.5 2520 1105 2522.2 1096 2524.4 1075.7 2526.4 1064.6 2528.5 1033.2 2530.9 1007.9 2532.5 1122.2 2534 1112.5 2535.5 1087.8 2537.1 1140.1 2538.6 1180.8 2540.1 1154.6 2541.6 1122.2 2543.6 1151.6 2545.7 1166.7 2547.7 1165.7 2549.4 1123.3 2551.1 1076.7 2552.9 1135.8 2554.8 1159.6 2556.4 1115.1 2558.2 1139.2 2560 1162.3 2561.8 1181.8 2563.3 1157.5 2564.9 1135.3 2566.9 1167 2568.9 1181.8 2570.7 1138.1 2572.5 1099.9 2574.3 1131.6 2576 1141.4 2578.3 1097.3 2580.6 1054.5 2583.1 1130.3 2585.1 1124.2 2587.1 1110.1 2588.6 1119.7 2590.1 1137.3 2592.2 1102.2 2594.2 1058.5 2595.7 1105.7 2597.2 1147.5 2599 1136.2 2600.8 1112.1 2603.3 1158.6 2604.8 1141.7 2606.3 1126.2 2607.7 1187.9 2610 1158.3 2612.4 1115.1 2614.4 1095.9 2616.4 1090.4 2618.4 1091.9 2620.5 1014 2623.1 992.8 2624.8 1030.5 2626.5 1062.5 2628.2 1048.7 2629.9 1032.6 2631.6 1014 2633.6 1042.3 2635.2 1000.9 2635.6 962.8 2636.5 875.9 2639.1 849.6 2641.5 950.7 2644 879.9 2646 1053.8 2647.8 974 2649.6 882 2651.1 875.9 2652.6 863.8 2654.7 972.9 2656.7 930.8 2658.7 894.1 2661 973 2663.4 1052.8 2666.2 843.6 2668 864.8 2669.8 889 2671.9 859.7 2673.4 865.7 2674.9 872.9 2676.9 821.3 2678.3 730.3 2678.7 660.4 2679.5 598.7 2681.3 627.8 2683 656.3 2685 593.7 2686 548.2 2687.7 548.8 2689.4 552.6 2691.1 542.1 2692.8 559.4 2694.5 573.4 2697.1 549.2 2698.6 555.9 2700.2 564.3 2702.2 559.3 2703.8 518.9 2705.5 521.4 2707.2 534 2709.3 547.2 2711.3 545.4 2713.3 539.1 2714.8 540.9 2716.3 547.2 2718.4 543 2720.4 540.1 2722.4 566.4 2724.2 558.5 2726 551.2 2727.8 570.1 2729.5 590.6 2730.5 617.9 2732 631.6 2733.5 642.2 2735.5 700.8 2737.1 686.4 2738.6 663.4 2740.6 700.8 2742.1 712.4 2743.6 714 2745.7 714.6 2747.7 706.9 2749.2 706.6 2750.7 703.8 2752.7 740.4 2754.4 742.6 2756.1 741.8 2757.8 739.4 2759.3 748.8 2760.8 764.7 2763.4 725.3 2765.2 738.8 2766.9 758.6 2768.9 747.8 2770.9 743.5 2772.6 748.9 2774.3 752.5 2776 755.6 2777.5 752.7 2779 752.6 2780.5 775.1 2782 801.1 2784.1 774.2 2786.1 749.5 2787.6 781.7 2789.1 816.3 2791.1 823 2793.2 818.3 2795.6 780.9 2798.2 831.4 2800.8 873.9 2802.6 857.7 2804.3 841.5 2805.3 782.9 2807.3 777.1 2809.3 772.8 2810.9 777.1 2812.4 774.8 2815 720.2 2817.2 753 2819.5 780.9 2821.5 772.3 2823.5 768.7 2825.5 682.6 2827.1 661.4 2828.9 694.8 2830.6 731.1 2832.1 719.2 2833.6 704 2835.1 710.7 2836.6 712.1 2838.2 732 2839.7 756.6 2842.1 770.8 2843.9 766.4 2845.7 760.7 2847.3 728.2 2848.8 687.7 2850.8 702.9 2852.8 722 2854.8 711.6 2856.9 700.8 2858.9 605.8 2860.4 605.9 2861.9 607.8 2862.9 583.6 2864.9 573.7 2867 571.4 2869 557.6 2871 545.1 2873 535 2875.7 517.8 2877.4 526.6 2879.1 531 2881.1 528.1 2883.1 522.9 2885.2 537 2887.2 535.3 2889.2 535 2890.7 558.4 2892.2 573.4 2894.3 622 2895.8 635.3 2897.3 642.2 2899.3 678.6 2901.3 687.5 2903.4 692.7 2905.4 723.1 2906.4 762.7 2907.9 766.7 2909.4 774.8 2910.9 771.8 2912.5 765.7 2914 784.7 2915.5 799.1 2917.5 788 2919.5 776.8 2921.6 816.3 2923.6 800.1 2926.2 808.2 2928.7 808.2" stroke="#ff0000" stroke-width="6.9" fill="none" stroke-linejoin="round" stroke-linecap="butt"/>
</g>
<text x="224.4" y="135.5" font-size="17" font-family="Liberation Sans, sans-serif" fill="#808080" textLength="240.6" lengthAdjust="spacingAndGlyphs" >erstellt 2019-12-04 23:59:30</text>
<rect x="212.7" y="112.1" width="2717" height="1513.2" fill="none" stroke="#000" stroke-width="3.33"/>
<path d="M212.7 1625.3v14.6M212.7 1625.3h-14.6M552.3 1625.3v14.6M212.7 1436.1h-14.6M892 1625.3v14.6M212.7 1247h-14.6M1231.6 1625.3v14.6M212.7 1057.8h-14.6M1571.2 1625.3v14.6M212.7 868.7h-14.6M1910.8 1625.3v14.6M212.7 679.5h-14.6M2250.4 1625.3v14.6M212.7 490.4h-14.6M2590.1 1625.3v14.6M212.7 301.2h-14.6M2929.7 1625.3v14.6M212.7 112.1h-14.6" stroke="#000" stroke-width="3.33" fill="none"/>
<text x="187.3" y="1685.7" font-size="44" font-family="Liberation Sans, sans-serif" fill="#000" textLength="50.8" lengthAdjust="spacingAndGlyphs" >00</text>
<text x="526.9" y="1685.7" font-size="44" font-family="Liberation Sans, sans-serif" fill="#000" textLength="50.8" lengthAdjust="spacingAndGlyphs" >03</text>
<text x="866.6" y="1685.7" font-size="44" font-family="Liberation Sans, sans-serif" fill="#000" textLength="50.8" lengthAdjust="spacingAndGlyphs" >06</text>
<text x="1206.2" y="1685.7" font-size="44" font-family="Liberation Sans, sans-serif" fill="#000" textLength="50.8" lengthAdjust="spacingAndGlyphs" >09</text>
<text x="1545.8" y="1685.7" font-size="44" font-family="Liberation Sans, sans-serif" fill="#000" textLength="50.8" lengthAdjust="spacingAndGlyphs" >12</text>
<text x="1885.4" y="1685.7" font-size="44" font-family="Liberation Sans, sans-serif" fill="#000" textLength="50.8" lengthAdjust="spacingAndGlyphs" >15</text>
<text x="2225" y="1685.7" font-size="44" font-family="Liberation Sans, sans-serif" fill="#000" textLength="50.8" lengthAdjust="spacingAndGlyphs" >18</text>
<text x="2564.7" y="1685.7" font-size="44" font-family="Liberation Sans, sans-serif" fill="#000" textLength="50.8" lengthAdjust="spacingAndGlyphs" >21</text>
<text x="2904.3" y="1685.7" font-size="44" font-family="Liberation Sans, sans-serif" fill="#000" textLength="50.8" lengthAdjust="spacingAndGlyphs" >00</text>
<text x="105" y="1641.2" font-size="44" font-family="Liberation Sans, sans-serif" fill="#000" textLength="77.3" lengthAdjust="spacingAndGlyphs" >350</text>
<text x="105" y="1452" font-size="44" font-family="Liberation Sans, sans-serif" fill="#000" textLength="77.3" lengthAdjust="spacingAndGlyphs" >375</text>
<text x="105" y="1262.9" font-size="44" font-family="Liberation Sans, sans-serif" fill="#000" textLength="77.3" lengthAdjust="spacingAndGlyphs" >400</text>
<text x="105" y="1073.8" font-size="44" font-family="Liberation Sans, sans-serif" fill="#000" textLength="77.3" lengthAdjust="spacingAndGlyphs" >425</text>
<text x="105" y="884.6" font-size="44" font-family="Liberation Sans, sans-serif" fill="#000" textLength="77.3" lengthAdjust="spacingAndGlyphs" >450</text>
<text x="105" y="695.4" font-size="44" font-family="Liberation Sans, sans-serif" fill="#000" textLength="77.3" lengthAdjust="spacingAndGlyphs" >475</text>
<text x="105" y="506.3" font-size="44" font-family="Liberation Sans, sans-serif" fill="#000" textLength="77.3" lengthAdjust="spacingAndGlyphs" >500</text>
<text x="105" y="317.1" font-size="44" font-family="Liberation Sans, sans-serif" fill="#000" textLength="77.3" lengthAdjust="spacingAndGlyphs" >525</text>
<text x="105" y="128" font-size="44" font-family="Liberation Sans, sans-serif" fill="#000" textLength="77.3" lengthAdjust="spacingAndGlyphs" >550</text>
<text x="1429.3" y="1743.8" font-size="42.5" font-family="Liberation Sans, sans-serif" fill="#000" textLength="280.3" lengthAdjust="spacingAndGlyphs" >Uhrzeit (UTC)</text>
<g transform="translate(81,918.6) rotate(-90)"><text x="0" y="0" font-size="41.67" font-family="Liberation Sans, sans-serif" fill="#000" textLength="91.4" lengthAdjust="spacingAndGlyphs" >ppm</text></g>
<text x="889" y="87.5" font-size="50" font-family="Liberation Sans, sans-serif" fill="#000" textLength="73.5" lengthAdjust="spacingAndGlyphs" >CO</text>
<text x="965.5" y="95.5" font-size="35" font-family="Liberation Sans, sans-serif" fill="#000" textLength="18.5" lengthAdjust="spacingAndGlyphs" >2</text>
<text x="990.7" y="87.5" font-size="50" font-family="Liberation Sans, sans-serif" fill="#000" textLength="1264.5" lengthAdjust="spacingAndGlyphs" >-Konzentration am 4.12.2019 (Dachplattform MIM)</text>
<rect x="233.5" y="133.5" width="573" height="133.1" rx="8.5" ry="8.5" fill="#fff" fill-opacity="0.8" stroke="#cccccc" stroke-opacity="0.8" stroke-width="4.17"/>
<path d="M250 166.1H333.3" stroke="#c0c0c0" stroke-width="1.7" fill="none"/>
<path d="M247.5 226.9H335.8" stroke="#ff0000" stroke-width="6.25" fill="none"/>
<text x="364" y="181.2" font-size="42.5" font-family="Liberation Sans, sans-serif" fill="#000" textLength="427.7" lengthAdjust="spacingAndGlyphs" >Messwerte (~10 Hz)</text>
<text x="366.4" y="241.8" font-size="42.5" font-family="Liberation Sans, sans-serif" fill="#000" textLength="347.7" lengthAdjust="spacingAndGlyphs" >1-Minuten-mittel</text>
</svg></body></html>
